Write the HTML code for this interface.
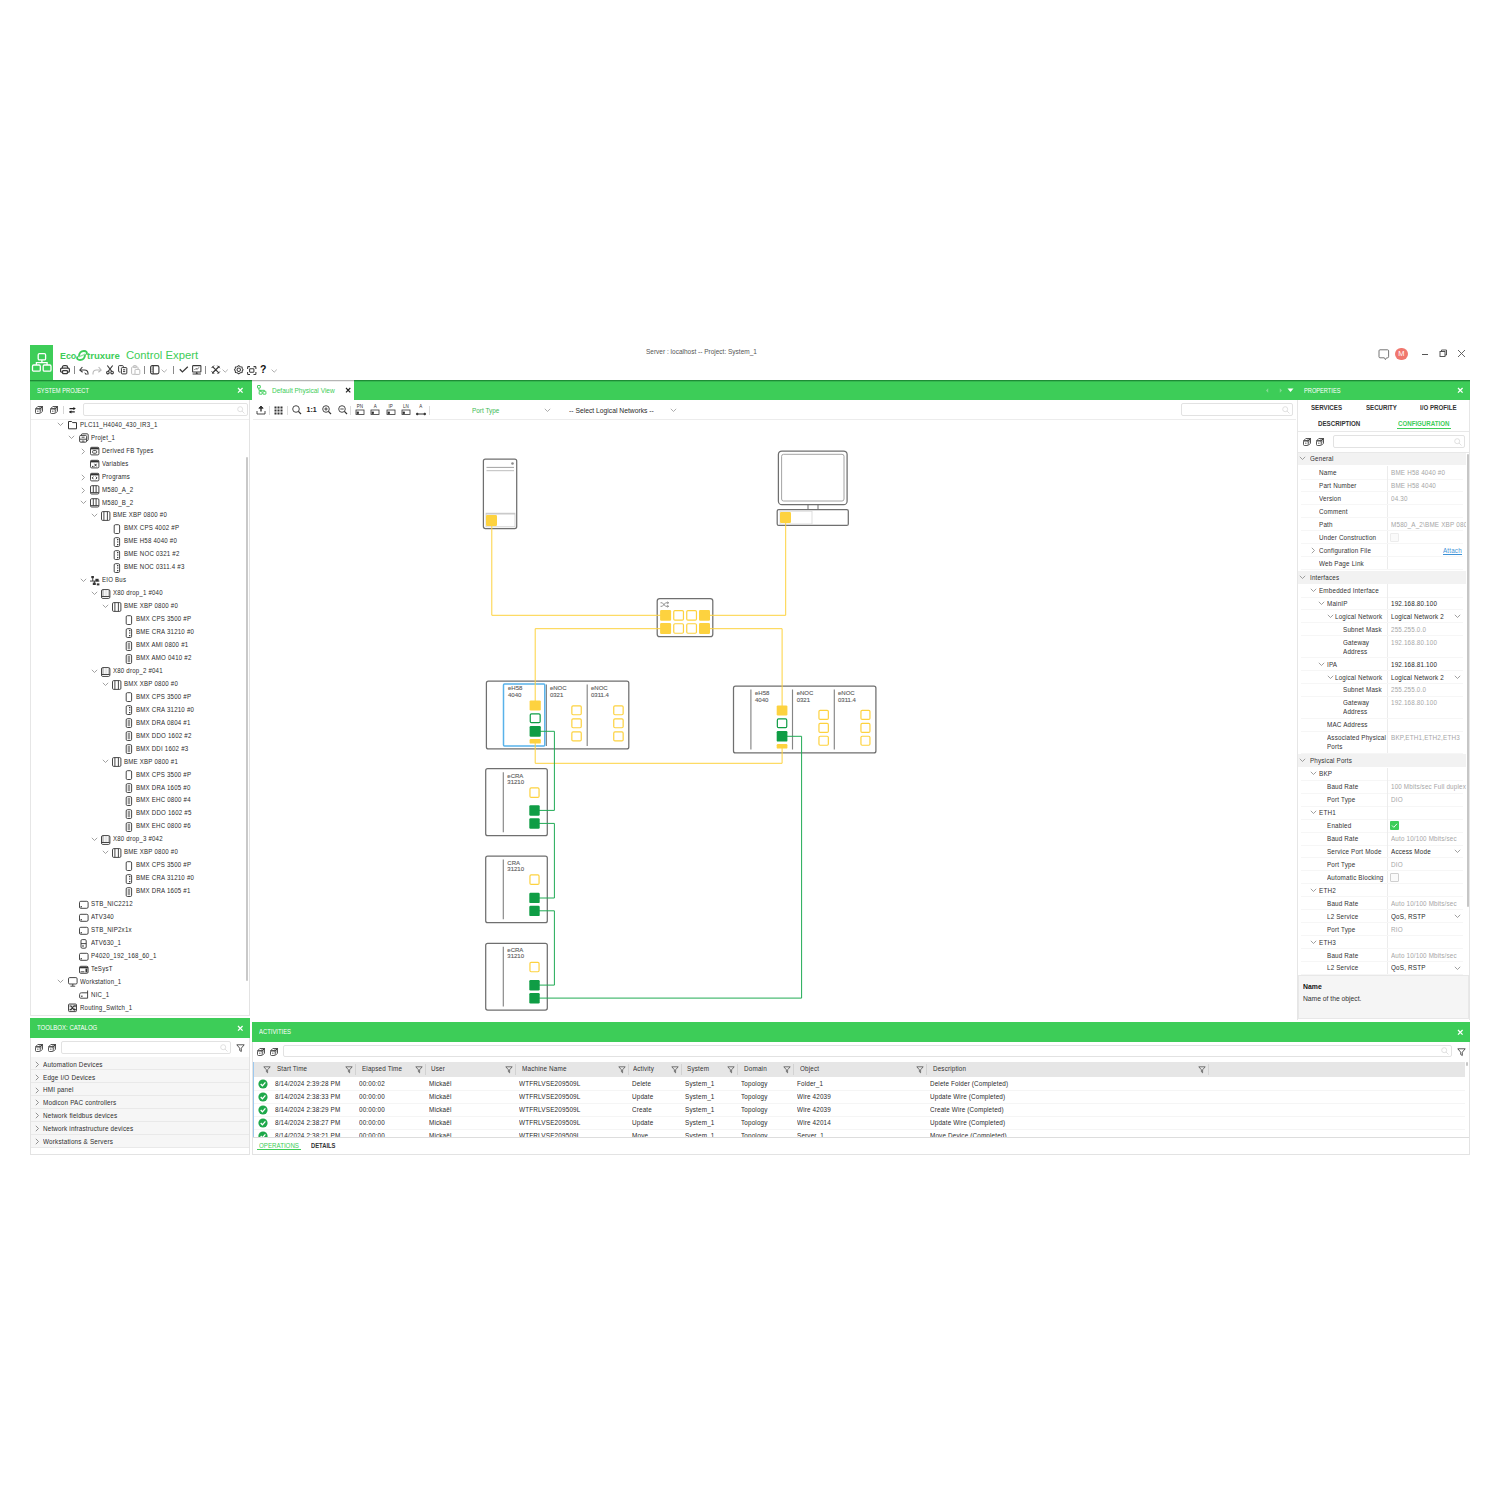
<!DOCTYPE html><html><head><meta charset="utf-8"><style>
html,body{margin:0;padding:0;background:#fff;width:1500px;height:1500px;overflow:hidden;position:relative;font-family:"Liberation Sans", sans-serif;}
.t{position:absolute;white-space:nowrap;}
svg{overflow:visible}
</style></head><body>
<div style="position:absolute;left:30.00px;top:345.00px;width:23.00px;height:35.00px;background:#3dcd58"></div>
<svg style="position:absolute;left:30.00px;top:345.00px;" width="23" height="35" viewBox="0 0 23 35"><g fill="none" stroke="#fff" stroke-width="1.3"><rect x="8.2" y="8.7" width="7.4" height="6.2" rx="1.2"/><rect x="2.5" y="20" width="7.8" height="6.2" rx="1.2"/><rect x="13.2" y="20" width="7.8" height="6.2" rx="1.2"/><path d="M11.9 14.9V17.6M6.4 20V17.6H17.1V20"/></g></svg>
<div class="t" style="left:59.70px;top:349.63px;font-size:9.8px;line-height:12.74px;color:#3dcd58;font-weight:bold;transform:scaleX(0.907);transform-origin:0 50%;">Eco</div>
<svg style="position:absolute;left:76.00px;top:349.80px;" width="12" height="11" viewBox="0 0 12 11"><g fill="none" stroke="#3dcd58" stroke-width="1.9" stroke-linecap="round"><path d="M3 6.2C3 3 5 1 8 1C10.3 1 11.3 2.2 10.8 3.8"/><path d="M9 4.8C9 8 7 10 4 10C1.7 10 0.7 8.8 1.2 7.2"/><path d="M3.2 6.6L8.8 4.4" stroke-width="1.3" stroke="#8fe09f"/></g></svg>
<div class="t" style="left:87.40px;top:349.63px;font-size:9.8px;line-height:12.74px;color:#3dcd58;font-weight:bold;transform:scaleX(0.974);transform-origin:0 50%;">truxure</div>
<div class="t" style="left:125.90px;top:348.15px;font-size:11.3px;line-height:14.69px;color:#3dcd58;font-weight:normal;">Control Expert</div>
<div class="t" style="left:646.00px;top:346.65px;font-size:7.3px;line-height:9.49px;color:#555;font-weight:normal;transform:scaleX(0.891);transform-origin:0 50%;">Server : localhost -- Project: System_1</div>
<svg style="position:absolute;left:60.00px;top:365.20px;" width="10" height="9.3" viewBox="0 0 10 9.3"><g fill="none" stroke="#3a3a3a" stroke-width="1.2"><path d="M2.4 3.2V2.2C2.4 1.3 3 0.7 4 0.7H6C7 0.7 7.6 1.3 7.6 2.2V3.2"/><path d="M2.4 7.2H1.6C1 7.2 0.6 6.8 0.6 6.2V4.4C0.6 3.7 1.1 3.2 1.8 3.2H8.2C8.9 3.2 9.4 3.7 9.4 4.4V6.2C9.4 6.8 9 7.2 8.4 7.2H7.6"/><rect x="2.6" y="5.6" width="4.8" height="3" rx="0.6"/></g></svg>
<div style="position:absolute;left:73.50px;top:366.00px;width:0.90px;height:7.60px;background:#8a8a8a"></div>
<svg style="position:absolute;left:79.00px;top:365.50px;" width="10" height="9" viewBox="0 0 10 9"><g fill="none" stroke="#3a3a3a" stroke-width="1.1" stroke-linejoin="round"><path d="M3.4 1L0.8 4L3.6 6.2"/><path d="M1 4H5.5C7.6 4 9 5.3 9 7.6V8.4"/></g><path d="M5.3 6.2L8.8 8.6L6.3 8.6Z" fill="#3a3a3a"/></svg>
<svg style="position:absolute;left:92.00px;top:365.50px;" width="10" height="9" viewBox="0 0 10 9"><g fill="none" stroke="#b8b8b8" stroke-width="1.1" stroke-linejoin="round"><path d="M6.6 1L9.2 4L6.4 6.2"/><path d="M9 4H4.5C2.4 4 1 5.3 1 7.6V8.4"/></g></svg>
<svg style="position:absolute;left:105.50px;top:365.00px;" width="8" height="9.5" viewBox="0 0 8 9.5"><g fill="none" stroke="#3a3a3a" stroke-width="1.1"><path d="M1.3 0.5L5.6 6.2M6.7 0.5L2.4 6.2"/><circle cx="1.9" cy="7.6" r="1.3"/><circle cx="6.1" cy="7.6" r="1.3"/></g></svg>
<svg style="position:absolute;left:118.00px;top:365.20px;" width="9.5" height="9.5" viewBox="0 0 9.5 9.5"><g fill="none" stroke="#3a3a3a" stroke-width="1"><path d="M2.4 7H1.3C0.9 7 0.6 6.7 0.6 6.3V1.3C0.6 0.9 0.9 0.6 1.3 0.6H4.6C5 0.6 5.3 0.9 5.3 1.3V2.4"/><rect x="3.4" y="2.6" width="5.4" height="6.3" rx="0.8"/><path d="M5 4.8H7.2M5 6.6H7.2"/></g></svg>
<svg style="position:absolute;left:131.00px;top:365.00px;" width="9.5" height="9.8" viewBox="0 0 9.5 9.8"><g fill="none" stroke="#bdbdbd" stroke-width="1"><rect x="0.6" y="2" width="6.5" height="7.3" rx="0.8"/><rect x="2.4" y="0.6" width="3" height="2" rx="0.5"/><rect x="4" y="4.4" width="4.8" height="5" rx="0.6" fill="#fff"/></g></svg>
<div style="position:absolute;left:144.30px;top:366.00px;width:0.90px;height:7.60px;background:#8a8a8a"></div>
<svg style="position:absolute;left:150.30px;top:365.20px;" width="9.5" height="9.5" viewBox="0 0 9.5 9.5"><g fill="none" stroke="#3a3a3a" stroke-width="1.1"><rect x="0.6" y="0.6" width="8.3" height="8.3" rx="1.6"/><path d="M3.2 0.8V8.8"/><path d="M1.6 3H2.6M1.6 4.8H2.6M1.6 6.6H2.6" stroke-width="0.8"/></g></svg>
<svg style="position:absolute;left:161.40px;top:368.80px;" width="7" height="4" viewBox="0 0 7 4"><path d="M0.6 0.6L3.2 3.2L5.8 0.6" fill="none" stroke="#9a9a9a" stroke-width="0.8"/></svg>
<div style="position:absolute;left:173.10px;top:366.00px;width:0.90px;height:7.60px;background:#8a8a8a"></div>
<svg style="position:absolute;left:178.80px;top:366.30px;" width="9.5" height="7" viewBox="0 0 9.5 7"><path d="M0.8 3.3L3.4 5.9L8.8 0.8" fill="none" stroke="#3a3a3a" stroke-width="1.3"/></svg>
<svg style="position:absolute;left:191.70px;top:365.00px;" width="9.5" height="9.5" viewBox="0 0 9.5 9.5"><g fill="none" stroke="#3a3a3a" stroke-width="1.05"><rect x="0.6" y="0.6" width="8.3" height="6.4" rx="0.5"/><path d="M4.75 7V8.2M0.6 8.9H8.9"/><path d="M2.4 5L4 3.4L5.2 4.4L6.9 2.4" stroke-width="0.8"/></g><path d="M3.5 8.9L4.75 7.6L6 8.9Z" fill="#3a3a3a"/></svg>
<div style="position:absolute;left:205.00px;top:366.00px;width:0.90px;height:7.60px;background:#8a8a8a"></div>
<svg style="position:absolute;left:211.00px;top:365.00px;" width="9.5" height="9.5" viewBox="0 0 9.5 9.5"><g fill="none" stroke="#3a3a3a" stroke-width="1.2" stroke-linecap="round"><path d="M1.5 8L8 1.5M1.8 1.8L7.8 7.8"/><path d="M0.8 2.8L2.8 0.8M6.8 8.6L8.6 6.8M6.6 0.9L8.6 2.9M0.9 6.6L2.9 8.6" stroke-width="1"/></g></svg>
<svg style="position:absolute;left:222.30px;top:368.80px;" width="7" height="4" viewBox="0 0 7 4"><path d="M0.6 0.6L3.2 3.2L5.8 0.6" fill="none" stroke="#9a9a9a" stroke-width="0.8"/></svg>
<svg style="position:absolute;left:233.50px;top:365.00px;" width="9.5" height="9.5" viewBox="0 0 9.5 9.5"><g fill="none" stroke="#3a3a3a" stroke-width="1.05" stroke-linejoin="round"><path d="M4.75 0.6L6.2 1.7L8 1.9L8.3 3.7L9.1 4.75L8.3 5.8L8 7.6L6.2 7.8L4.75 8.9L3.3 7.8L1.5 7.6L1.2 5.8L0.4 4.75L1.2 3.7L1.5 1.9L3.3 1.7Z"/><circle cx="4.75" cy="4.75" r="1.7"/></g></svg>
<svg style="position:absolute;left:246.70px;top:365.50px;" width="9.5" height="9" viewBox="0 0 9.5 9"><g fill="none" stroke="#3a3a3a" stroke-width="1.05"><path d="M0.6 3V1.3C0.6 0.9 0.9 0.6 1.3 0.6H3M6.5 0.6H8.2C8.6 0.6 8.9 0.9 8.9 1.3V3M8.9 6V7.7C8.9 8.1 8.6 8.4 8.2 8.4H6.5M3 8.4H1.3C0.9 8.4 0.6 8.1 0.6 7.7V6"/><rect x="2.6" y="2.8" width="4.3" height="3.4" rx="0.6"/></g></svg>
<div class="t" style="left:260.20px;top:362.32px;font-size:11.5px;line-height:14.95px;color:#111;font-weight:bold;transform:scaleX(0.911);transform-origin:0 50%;">?</div>
<svg style="position:absolute;left:271.00px;top:368.80px;" width="7" height="4" viewBox="0 0 7 4"><path d="M0.6 0.6L3.2 3.2L5.8 0.6" fill="none" stroke="#9a9a9a" stroke-width="0.8"/></svg>
<svg style="position:absolute;left:1378.00px;top:348.50px;" width="12" height="12" viewBox="0 0 12 12"><path d="M2 0.8H9.6C10.2 0.8 10.6 1.2 10.6 1.8V7.8C10.6 8.4 10.2 8.8 9.6 8.8H8.6L7.4 10.6L6.4 8.8H2C1.4 8.8 1 8.4 1 7.8V1.8C1 1.2 1.4 0.8 2 0.8Z" fill="none" stroke="#666" stroke-width="0.9" stroke-linejoin="round"/></svg>
<div style="position:absolute;left:1395.3px;top:347.8px;width:12.4px;height:12.4px;border-radius:50%;background:#f0776e;color:#fff;font-size:7.5px;line-height:12.4px;text-align:center;">M</div>
<div style="position:absolute;left:1422.30px;top:353.70px;width:5.80px;height:1.00px;background:#555"></div>
<svg style="position:absolute;left:1439.00px;top:349.00px;" width="9" height="9" viewBox="0 0 9 9"><g fill="none" stroke="#444" stroke-width="0.9"><rect x="1" y="2.5" width="5" height="5"/><path d="M2.5 2.5V1H7.5V6H6"/></g></svg>
<svg style="position:absolute;left:1457.00px;top:349.00px;" width="9" height="9" viewBox="0 0 9 9"><path d="M1 1L8 8M8 1L1 8" fill="none" stroke="#555" stroke-width="0.9"/></svg>
<div style="position:absolute;left:30.00px;top:380.00px;width:222.00px;height:20.00px;background:#3dcd58;box-shadow:inset 0 1px 0 #1d8c35, inset 0 2px 0 #34b64f"></div>
<div style="position:absolute;left:354.00px;top:380.00px;width:1116.00px;height:20.00px;background:#3dcd58;box-shadow:inset 0 1px 0 #1d8c35, inset 0 2px 0 #34b64f"></div>
<div style="position:absolute;left:252.00px;top:380.00px;width:102.00px;height:20.00px;background:#fff;box-shadow:inset 0 1px 0 #b5b5b5, inset 0 2px 0 #ececec"></div>
<div style="position:absolute;left:30.00px;top:400.00px;width:219.60px;height:616.00px;background:#fff;border-left:1px solid #e6e6e6;border-right:1px solid #e3e3e3;border-bottom:1px solid #e6e6e6;box-sizing:border-box"></div>
<div style="position:absolute;left:1296.50px;top:400.00px;width:1.00px;height:620.00px;background:#e6e6e6"></div>
<div style="position:absolute;left:1469.00px;top:400.00px;width:1.00px;height:620.00px;background:#e6e6e6"></div>
<div class="t" style="left:36.80px;top:385.56px;font-size:7.3px;line-height:9.49px;color:#fff;font-weight:normal;transform:scaleX(0.787);transform-origin:0 50%;">SYSTEM PROJECT</div>
<svg style="position:absolute;left:237.20px;top:386.70px;" width="6.6" height="6.6" viewBox="0 0 6.6 6.6"><path d="M1 1L5.6 5.6M5.6 1L1 5.6" stroke="#fff" stroke-width="1.3"/></svg>
<svg style="position:absolute;left:257.00px;top:385.00px;" width="10" height="10" viewBox="0 0 10 10"><g fill="none" stroke="#3dcd58" stroke-width="0.95"><rect x="0.5" y="0.5" width="2.8" height="2.6" rx="0.3"/><path d="M1.9 3.1V5.3H7.4V6.3M3.6 5.3V6.3"/><rect x="2.2" y="6.3" width="2.9" height="2.9" rx="0.3"/><rect x="6" y="6.3" width="2.9" height="2.9" rx="0.3"/></g></svg>
<div class="t" style="left:272.00px;top:385.56px;font-size:7.3px;line-height:9.49px;color:#3dcd58;font-weight:normal;transform:scaleX(0.895);transform-origin:0 50%;">Default Physical View</div>
<svg style="position:absolute;left:344.65px;top:386.65px;" width="6.3" height="6.3" viewBox="0 0 6.3 6.3"><path d="M1 1L5.3 5.3M5.3 1L1 5.3" stroke="#222" stroke-width="1.15"/></svg>
<svg style="position:absolute;left:1265.00px;top:387.00px;" width="18" height="7" viewBox="0 0 18 7"><path d="M3.2 1.2L1 3.5L3.2 5.8ZM14.8 1.2L17 3.5L14.8 5.8Z" fill="#86d995"/></svg>
<svg style="position:absolute;left:1287.00px;top:388.00px;" width="7" height="5" viewBox="0 0 7 5"><path d="M0.5 0.5H6.5L3.5 4Z" fill="#fff"/></svg>
<div class="t" style="left:1303.70px;top:385.56px;font-size:7.3px;line-height:9.49px;color:#fff;font-weight:normal;transform:scaleX(0.778);transform-origin:0 50%;">PROPERTIES</div>
<svg style="position:absolute;left:1457.30px;top:386.70px;" width="6.6" height="6.6" viewBox="0 0 6.6 6.6"><path d="M1 1L5.6 5.6M5.6 1L1 5.6" stroke="#fff" stroke-width="1.3"/></svg>
<svg style="position:absolute;left:35.00px;top:406.20px;" width="8" height="8" viewBox="0 0 8 8"><g fill="none" stroke="#3a3a3a" stroke-width="0.85" stroke-linejoin="round"><path d="M0.5 2.8L2.8 0.5H7.5L5.2 2.8Z"/><path d="M5.2 2.8L7.5 0.5V5.2L5.2 7.5"/><rect x="0.5" y="2.8" width="4.7" height="4.7" rx="1"/><path d="M3.6 2.6L5.8 0.6M4.6 2.7L6.8 0.6M5.6 3.6L7.4 1.8M5.6 4.8L7.4 3" stroke-width="0.5"/></g><circle cx="2.85" cy="5.15" r="0.6" fill="#3a3a3a"/></svg>
<svg style="position:absolute;left:50.00px;top:406.20px;" width="8" height="8" viewBox="0 0 8 8"><g fill="none" stroke="#3a3a3a" stroke-width="0.85" stroke-linejoin="round"><path d="M0.5 2.8L2.8 0.5H7.5L5.2 2.8Z"/><path d="M5.2 2.8L7.5 0.5V5.2L5.2 7.5"/><rect x="0.5" y="2.8" width="4.7" height="4.7" rx="1"/><path d="M3.6 2.6L5.8 0.6M4.6 2.7L6.8 0.6M5.6 3.6L7.4 1.8M5.6 4.8L7.4 3" stroke-width="0.5"/></g><circle cx="2.85" cy="5.15" r="0.6" fill="#3a3a3a"/></svg>
<div style="position:absolute;left:63.20px;top:406.00px;width:0.70px;height:8.00px;background:#d6d6d6"></div>
<svg style="position:absolute;left:69.00px;top:406.50px;" width="7" height="6.5" viewBox="0 0 7 6.5"><g fill="none" stroke="#222" stroke-width="1.1"><path d="M0.5 1.6H5.2M0.5 4.9H5.8"/></g><path d="M4.4 0L6.8 1.6L4.4 3.2Z M2.4 3.3L0 4.9L2.4 6.5Z" fill="#222"/></svg>
<div style="position:absolute;left:82.70px;top:403.30px;width:165.00px;height:13.00px;border:1px solid #e2e2e2;border-radius:2px;box-sizing:border-box;background:#fff"></div>
<svg style="position:absolute;left:236.70px;top:405.80px;" width="8" height="8" viewBox="0 0 8 8"><g fill="none" stroke="#ddd" stroke-width="0.9"><circle cx="3.2" cy="3.2" r="2.5"/><path d="M5 5L7.5 7.5"/></g></svg>
<div style="position:absolute;left:31.00px;top:419.00px;width:218.00px;height:0.80px;background:#eee"></div>
<div style="position:absolute;left:245.60px;top:457.00px;width:2.20px;height:524.00px;background:#c9c9c9;border-radius:1px"></div>
<svg style="position:absolute;left:57.20px;top:422.40px;" width="7" height="5" viewBox="0 0 7 5"><path d="M0.8 0.8L3.5 3.5L6.2 0.8" fill="none" stroke="#8a8a8a" stroke-width="0.8"/></svg>
<svg style="position:absolute;left:67.50px;top:420.40px;" width="10" height="10" viewBox="0 0 10 10"><path d="M0.5 1.5H3.6L4.6 2.6H8.5V8.8H0.5Z" fill="none" stroke="#333" stroke-width="1.0" stroke-linejoin="round"/></svg>
<div class="t" style="left:79.50px;top:420.78px;font-size:7.1px;line-height:9.23px;color:#2a2a2a;font-weight:normal;transform:scaleX(0.862);transform-origin:0 50%;letter-spacing:0.25px;">PLC11_H4040_430_IR3_1</div>
<svg style="position:absolute;left:68.40px;top:435.35px;" width="7" height="5" viewBox="0 0 7 5"><path d="M0.8 0.8L3.5 3.5L6.2 0.8" fill="none" stroke="#8a8a8a" stroke-width="0.8"/></svg>
<svg style="position:absolute;left:78.70px;top:433.35px;" width="10" height="10" viewBox="0 0 10 10"><g fill="none" stroke="#333" stroke-width="0.9"><rect x="0.6" y="2.4" width="7" height="6.8" rx="1.2"/><path d="M2.4 2.4V1.8C2.4 1.2 2.8 0.8 3.4 0.8H8.2C8.8 0.8 9.2 1.2 9.2 1.8V6.6C9.2 7.2 8.8 7.6 8.2 7.6H7.6"/><path d="M0.8 6.2H7.4M2.6 4.2H5.6M2.8 8.1H5.4"/></g></svg>
<div class="t" style="left:90.70px;top:433.74px;font-size:7.1px;line-height:9.23px;color:#2a2a2a;font-weight:normal;transform:scaleX(0.851);transform-origin:0 50%;letter-spacing:0.25px;">Projet_1</div>
<svg style="position:absolute;left:80.60px;top:447.81px;" width="5" height="7" viewBox="0 0 5 7"><path d="M0.8 0.8L3.5 3.5L0.8 6.2" fill="none" stroke="#8a8a8a" stroke-width="0.8"/></svg>
<svg style="position:absolute;left:89.90px;top:446.31px;" width="10" height="10" viewBox="0 0 10 10"><g fill="none" stroke="#333" stroke-width="0.9"><rect x="0.5" y="1.3" width="8.4" height="7.6" rx="1.2"/><path d="M0.6 2.5H8.8" stroke-width="1.8"/><rect x="2.6" y="4.6" width="4" height="2.6" rx="0.8"/></g></svg>
<div class="t" style="left:101.90px;top:446.69px;font-size:7.1px;line-height:9.23px;color:#2a2a2a;font-weight:normal;transform:scaleX(0.854);transform-origin:0 50%;letter-spacing:0.25px;">Derived FB Types</div>
<svg style="position:absolute;left:89.90px;top:459.26px;" width="10" height="10" viewBox="0 0 10 10"><g fill="none" stroke="#333" stroke-width="0.9"><rect x="0.5" y="1.3" width="8.4" height="7.6" rx="1.2"/><path d="M0.6 2.5H8.8" stroke-width="1.8"/><path d="M2 7.4H3.5M4.5 4.8L6.6 7.4M6.6 4.8L4.5 7.4" stroke-width="1"/></g></svg>
<div class="t" style="left:101.90px;top:459.65px;font-size:7.1px;line-height:9.23px;color:#2a2a2a;font-weight:normal;transform:scaleX(0.849);transform-origin:0 50%;letter-spacing:0.25px;">Variables</div>
<svg style="position:absolute;left:80.60px;top:473.72px;" width="5" height="7" viewBox="0 0 5 7"><path d="M0.8 0.8L3.5 3.5L0.8 6.2" fill="none" stroke="#8a8a8a" stroke-width="0.8"/></svg>
<svg style="position:absolute;left:89.90px;top:472.22px;" width="10" height="10" viewBox="0 0 10 10"><g fill="none" stroke="#333" stroke-width="0.9"><rect x="0.5" y="1.3" width="8.4" height="7.6" rx="1.2"/><path d="M0.6 2.5H8.8" stroke-width="1.8"/><path d="M3.4 4.6L2.3 5.9L3.4 7.2M5.8 4.6L6.9 5.9L5.8 7.2" stroke-width="1"/></g></svg>
<div class="t" style="left:101.90px;top:472.60px;font-size:7.1px;line-height:9.23px;color:#2a2a2a;font-weight:normal;transform:scaleX(0.859);transform-origin:0 50%;letter-spacing:0.25px;">Programs</div>
<svg style="position:absolute;left:80.60px;top:486.67px;" width="5" height="7" viewBox="0 0 5 7"><path d="M0.8 0.8L3.5 3.5L0.8 6.2" fill="none" stroke="#8a8a8a" stroke-width="0.8"/></svg>
<svg style="position:absolute;left:89.90px;top:485.17px;" width="10" height="10" viewBox="0 0 10 10"><g fill="none" stroke="#333" stroke-width="0.9"><rect x="0.5" y="0.7" width="8.4" height="8.3" rx="1.2"/><path d="M3.3 0.8V7.6M6.1 0.8V7.6M0.6 7.6H8.8"/></g></svg>
<div class="t" style="left:101.90px;top:485.56px;font-size:7.1px;line-height:9.23px;color:#2a2a2a;font-weight:normal;transform:scaleX(0.865);transform-origin:0 50%;letter-spacing:0.25px;">M580_A_2</div>
<svg style="position:absolute;left:79.60px;top:500.13px;" width="7" height="5" viewBox="0 0 7 5"><path d="M0.8 0.8L3.5 3.5L6.2 0.8" fill="none" stroke="#8a8a8a" stroke-width="0.8"/></svg>
<svg style="position:absolute;left:89.90px;top:498.13px;" width="10" height="10" viewBox="0 0 10 10"><g fill="none" stroke="#333" stroke-width="0.9"><rect x="0.5" y="0.7" width="8.4" height="8.3" rx="1.2"/><path d="M3.3 0.8V7.6M6.1 0.8V7.6M0.6 7.6H8.8"/></g></svg>
<div class="t" style="left:101.90px;top:498.51px;font-size:7.1px;line-height:9.23px;color:#2a2a2a;font-weight:normal;transform:scaleX(0.865);transform-origin:0 50%;letter-spacing:0.25px;">M580_B_2</div>
<svg style="position:absolute;left:90.80px;top:513.09px;" width="7" height="5" viewBox="0 0 7 5"><path d="M0.8 0.8L3.5 3.5L6.2 0.8" fill="none" stroke="#8a8a8a" stroke-width="0.8"/></svg>
<svg style="position:absolute;left:101.10px;top:511.09px;" width="10" height="10" viewBox="0 0 10 10"><g fill="none" stroke="#333" stroke-width="0.9"><rect x="0.5" y="0.6" width="8.4" height="8.8" rx="1.2"/><path d="M2.9 0.8V9.2M6.4 0.8V9.2"/></g></svg>
<div class="t" style="left:113.10px;top:511.47px;font-size:7.1px;line-height:9.23px;color:#2a2a2a;font-weight:normal;transform:scaleX(0.860);transform-origin:0 50%;letter-spacing:0.25px;">BME XBP 0800 #0</div>
<svg style="position:absolute;left:112.30px;top:524.04px;" width="10" height="10" viewBox="0 0 10 10"><rect x="2.2" y="0.7" width="5.4" height="8.8" rx="1.2" fill="none" stroke="#333" stroke-width="0.9"/></svg>
<div class="t" style="left:124.30px;top:524.42px;font-size:7.1px;line-height:9.23px;color:#2a2a2a;font-weight:normal;transform:scaleX(0.861);transform-origin:0 50%;letter-spacing:0.25px;">BMX CPS 4002 #P</div>
<svg style="position:absolute;left:112.30px;top:537.00px;" width="10" height="10" viewBox="0 0 10 10"><g fill="none" stroke="#333" stroke-width="0.9"><rect x="2.2" y="0.7" width="5.4" height="8.8" rx="1.2"/><path d="M5.7 2V3.2M5.7 4.5V5.6M5.7 7V8.2" stroke-width="1.3"/></g></svg>
<div class="t" style="left:124.30px;top:537.38px;font-size:7.1px;line-height:9.23px;color:#2a2a2a;font-weight:normal;transform:scaleX(0.859);transform-origin:0 50%;letter-spacing:0.25px;">BME H58 4040 #0</div>
<svg style="position:absolute;left:112.30px;top:549.95px;" width="10" height="10" viewBox="0 0 10 10"><g fill="none" stroke="#333" stroke-width="0.9"><rect x="2.2" y="0.7" width="5.4" height="8.8" rx="1.2"/><path d="M5.7 2V3.2M5.7 4.5V5.6M5.7 7V8.2" stroke-width="1.3"/></g></svg>
<div class="t" style="left:124.30px;top:550.34px;font-size:7.1px;line-height:9.23px;color:#2a2a2a;font-weight:normal;transform:scaleX(0.862);transform-origin:0 50%;letter-spacing:0.25px;">BME NOC 0321 #2</div>
<svg style="position:absolute;left:112.30px;top:562.90px;" width="10" height="10" viewBox="0 0 10 10"><g fill="none" stroke="#333" stroke-width="0.9"><rect x="2.2" y="0.7" width="5.4" height="8.8" rx="1.2"/><path d="M5.7 2V3.2M5.7 4.5V5.6M5.7 7V8.2" stroke-width="1.3"/></g></svg>
<div class="t" style="left:124.30px;top:563.29px;font-size:7.1px;line-height:9.23px;color:#2a2a2a;font-weight:normal;transform:scaleX(0.860);transform-origin:0 50%;letter-spacing:0.25px;">BME NOC 0311.4 #3</div>
<svg style="position:absolute;left:79.60px;top:577.86px;" width="7" height="5" viewBox="0 0 7 5"><path d="M0.8 0.8L3.5 3.5L6.2 0.8" fill="none" stroke="#8a8a8a" stroke-width="0.8"/></svg>
<svg style="position:absolute;left:89.90px;top:575.86px;" width="10" height="10" viewBox="0 0 10 10"><g fill="#333" stroke="none"><rect x="1.3" y="0" width="2.6" height="2.2"/><rect x="5.4" y="2.8" width="3.2" height="2.6"/><rect x="2.8" y="6.6" width="3" height="2.4"/><rect x="6.8" y="7.4" width="2.6" height="2"/><rect x="0" y="4.6" width="9.4" height="0.9"/><rect x="2.3" y="2" width="0.9" height="3"/><rect x="3.9" y="5" width="0.9" height="2"/></g></svg>
<div class="t" style="left:101.90px;top:576.25px;font-size:7.1px;line-height:9.23px;color:#2a2a2a;font-weight:normal;transform:scaleX(0.858);transform-origin:0 50%;letter-spacing:0.25px;">EIO Bus</div>
<svg style="position:absolute;left:90.80px;top:590.81px;" width="7" height="5" viewBox="0 0 7 5"><path d="M0.8 0.8L3.5 3.5L6.2 0.8" fill="none" stroke="#8a8a8a" stroke-width="0.8"/></svg>
<svg style="position:absolute;left:101.10px;top:588.81px;" width="10" height="10" viewBox="0 0 10 10"><g fill="none" stroke="#333" stroke-width="0.9"><rect x="0.5" y="0.6" width="8.4" height="8.8" rx="1.4" fill="#c8c8c8"/><rect x="3.2" y="1" width="1.4" height="6.2" fill="#fff" stroke="none"/><rect x="5.4" y="1" width="1.4" height="6.2" fill="#fff" stroke="none"/><rect x="1.2" y="7.6" width="7" height="1.2" fill="#fff" stroke="none"/><path d="M0.8 7.5H8.6"/></g></svg>
<div class="t" style="left:113.10px;top:589.20px;font-size:7.1px;line-height:9.23px;color:#2a2a2a;font-weight:normal;transform:scaleX(0.856);transform-origin:0 50%;letter-spacing:0.25px;">X80 drop_1 #040</div>
<svg style="position:absolute;left:102.00px;top:603.77px;" width="7" height="5" viewBox="0 0 7 5"><path d="M0.8 0.8L3.5 3.5L6.2 0.8" fill="none" stroke="#8a8a8a" stroke-width="0.8"/></svg>
<svg style="position:absolute;left:112.30px;top:601.77px;" width="10" height="10" viewBox="0 0 10 10"><g fill="none" stroke="#333" stroke-width="0.9"><rect x="0.5" y="0.6" width="8.4" height="8.8" rx="1.2"/><path d="M2.9 0.8V9.2M6.4 0.8V9.2"/></g></svg>
<div class="t" style="left:124.30px;top:602.15px;font-size:7.1px;line-height:9.23px;color:#2a2a2a;font-weight:normal;transform:scaleX(0.860);transform-origin:0 50%;letter-spacing:0.25px;">BME XBP 0800 #0</div>
<svg style="position:absolute;left:123.50px;top:614.72px;" width="10" height="10" viewBox="0 0 10 10"><rect x="2.2" y="0.7" width="5.4" height="8.8" rx="1.2" fill="none" stroke="#333" stroke-width="0.9"/></svg>
<div class="t" style="left:135.50px;top:615.11px;font-size:7.1px;line-height:9.23px;color:#2a2a2a;font-weight:normal;transform:scaleX(0.861);transform-origin:0 50%;letter-spacing:0.25px;">BMX CPS 3500 #P</div>
<svg style="position:absolute;left:123.50px;top:627.68px;" width="10" height="10" viewBox="0 0 10 10"><g fill="none" stroke="#333" stroke-width="0.9"><rect x="2.2" y="0.7" width="5.4" height="8.8" rx="1.2"/><path d="M5.7 2V3.2M5.7 4.5V5.6M5.7 7V8.2" stroke-width="1.3"/></g></svg>
<div class="t" style="left:135.50px;top:628.06px;font-size:7.1px;line-height:9.23px;color:#2a2a2a;font-weight:normal;transform:scaleX(0.861);transform-origin:0 50%;letter-spacing:0.25px;">BME CRA 31210 #0</div>
<svg style="position:absolute;left:123.50px;top:640.63px;" width="10" height="10" viewBox="0 0 10 10"><g fill="none" stroke="#333" stroke-width="0.9"><rect x="2.2" y="0.7" width="5.4" height="8.8" rx="1.2"/><rect x="3.7" y="2" width="2.4" height="6.2" fill="#9a9a9a" stroke="none"/></g></svg>
<div class="t" style="left:135.50px;top:641.02px;font-size:7.1px;line-height:9.23px;color:#2a2a2a;font-weight:normal;transform:scaleX(0.859);transform-origin:0 50%;letter-spacing:0.25px;">BMX AMI 0800 #1</div>
<svg style="position:absolute;left:123.50px;top:653.59px;" width="10" height="10" viewBox="0 0 10 10"><g fill="none" stroke="#333" stroke-width="0.9"><rect x="2.2" y="0.7" width="5.4" height="8.8" rx="1.2"/><rect x="3.7" y="2" width="2.4" height="6.2" fill="#9a9a9a" stroke="none"/></g></svg>
<div class="t" style="left:135.50px;top:653.97px;font-size:7.1px;line-height:9.23px;color:#2a2a2a;font-weight:normal;transform:scaleX(0.862);transform-origin:0 50%;letter-spacing:0.25px;">BMX AMO 0410 #2</div>
<svg style="position:absolute;left:90.80px;top:668.54px;" width="7" height="5" viewBox="0 0 7 5"><path d="M0.8 0.8L3.5 3.5L6.2 0.8" fill="none" stroke="#8a8a8a" stroke-width="0.8"/></svg>
<svg style="position:absolute;left:101.10px;top:666.54px;" width="10" height="10" viewBox="0 0 10 10"><g fill="none" stroke="#333" stroke-width="0.9"><rect x="0.5" y="0.6" width="8.4" height="8.8" rx="1.4" fill="#c8c8c8"/><rect x="3.2" y="1" width="1.4" height="6.2" fill="#fff" stroke="none"/><rect x="5.4" y="1" width="1.4" height="6.2" fill="#fff" stroke="none"/><rect x="1.2" y="7.6" width="7" height="1.2" fill="#fff" stroke="none"/><path d="M0.8 7.5H8.6"/></g></svg>
<div class="t" style="left:113.10px;top:666.93px;font-size:7.1px;line-height:9.23px;color:#2a2a2a;font-weight:normal;transform:scaleX(0.856);transform-origin:0 50%;letter-spacing:0.25px;">X80 drop_2 #041</div>
<svg style="position:absolute;left:102.00px;top:681.50px;" width="7" height="5" viewBox="0 0 7 5"><path d="M0.8 0.8L3.5 3.5L6.2 0.8" fill="none" stroke="#8a8a8a" stroke-width="0.8"/></svg>
<svg style="position:absolute;left:112.30px;top:679.50px;" width="10" height="10" viewBox="0 0 10 10"><g fill="none" stroke="#333" stroke-width="0.9"><rect x="0.5" y="0.6" width="8.4" height="8.8" rx="1.2"/><path d="M2.9 0.8V9.2M6.4 0.8V9.2"/></g></svg>
<div class="t" style="left:124.30px;top:679.88px;font-size:7.1px;line-height:9.23px;color:#2a2a2a;font-weight:normal;transform:scaleX(0.860);transform-origin:0 50%;letter-spacing:0.25px;">BMX XBP 0800 #0</div>
<svg style="position:absolute;left:123.50px;top:692.45px;" width="10" height="10" viewBox="0 0 10 10"><rect x="2.2" y="0.7" width="5.4" height="8.8" rx="1.2" fill="none" stroke="#333" stroke-width="0.9"/></svg>
<div class="t" style="left:135.50px;top:692.84px;font-size:7.1px;line-height:9.23px;color:#2a2a2a;font-weight:normal;transform:scaleX(0.861);transform-origin:0 50%;letter-spacing:0.25px;">BMX CPS 3500 #P</div>
<svg style="position:absolute;left:123.50px;top:705.41px;" width="10" height="10" viewBox="0 0 10 10"><g fill="none" stroke="#333" stroke-width="0.9"><rect x="2.2" y="0.7" width="5.4" height="8.8" rx="1.2"/><path d="M5.7 2V3.2M5.7 4.5V5.6M5.7 7V8.2" stroke-width="1.3"/></g></svg>
<div class="t" style="left:135.50px;top:705.79px;font-size:7.1px;line-height:9.23px;color:#2a2a2a;font-weight:normal;transform:scaleX(0.861);transform-origin:0 50%;letter-spacing:0.25px;">BMX CRA 31210 #0</div>
<svg style="position:absolute;left:123.50px;top:718.37px;" width="10" height="10" viewBox="0 0 10 10"><g fill="none" stroke="#333" stroke-width="0.9"><rect x="2.2" y="0.7" width="5.4" height="8.8" rx="1.2"/><rect x="3.7" y="2" width="2.4" height="6.2" fill="#9a9a9a" stroke="none"/></g></svg>
<div class="t" style="left:135.50px;top:718.75px;font-size:7.1px;line-height:9.23px;color:#2a2a2a;font-weight:normal;transform:scaleX(0.861);transform-origin:0 50%;letter-spacing:0.25px;">BMX DRA 0804 #1</div>
<svg style="position:absolute;left:123.50px;top:731.32px;" width="10" height="10" viewBox="0 0 10 10"><g fill="none" stroke="#333" stroke-width="0.9"><rect x="2.2" y="0.7" width="5.4" height="8.8" rx="1.2"/><rect x="3.7" y="2" width="2.4" height="6.2" fill="#9a9a9a" stroke="none"/></g></svg>
<div class="t" style="left:135.50px;top:731.70px;font-size:7.1px;line-height:9.23px;color:#2a2a2a;font-weight:normal;transform:scaleX(0.862);transform-origin:0 50%;letter-spacing:0.25px;">BMX DDO 1602 #2</div>
<svg style="position:absolute;left:123.50px;top:744.27px;" width="10" height="10" viewBox="0 0 10 10"><g fill="none" stroke="#333" stroke-width="0.9"><rect x="2.2" y="0.7" width="5.4" height="8.8" rx="1.2"/><rect x="3.7" y="2" width="2.4" height="6.2" fill="#9a9a9a" stroke="none"/></g></svg>
<div class="t" style="left:135.50px;top:744.66px;font-size:7.1px;line-height:9.23px;color:#2a2a2a;font-weight:normal;transform:scaleX(0.859);transform-origin:0 50%;letter-spacing:0.25px;">BMX DDI 1602 #3</div>
<svg style="position:absolute;left:102.00px;top:759.23px;" width="7" height="5" viewBox="0 0 7 5"><path d="M0.8 0.8L3.5 3.5L6.2 0.8" fill="none" stroke="#8a8a8a" stroke-width="0.8"/></svg>
<svg style="position:absolute;left:112.30px;top:757.23px;" width="10" height="10" viewBox="0 0 10 10"><g fill="none" stroke="#333" stroke-width="0.9"><rect x="0.5" y="0.6" width="8.4" height="8.8" rx="1.2"/><path d="M2.9 0.8V9.2M6.4 0.8V9.2"/></g></svg>
<div class="t" style="left:124.30px;top:757.62px;font-size:7.1px;line-height:9.23px;color:#2a2a2a;font-weight:normal;transform:scaleX(0.860);transform-origin:0 50%;letter-spacing:0.25px;">BME XBP 0800 #1</div>
<svg style="position:absolute;left:123.50px;top:770.18px;" width="10" height="10" viewBox="0 0 10 10"><rect x="2.2" y="0.7" width="5.4" height="8.8" rx="1.2" fill="none" stroke="#333" stroke-width="0.9"/></svg>
<div class="t" style="left:135.50px;top:770.57px;font-size:7.1px;line-height:9.23px;color:#2a2a2a;font-weight:normal;transform:scaleX(0.861);transform-origin:0 50%;letter-spacing:0.25px;">BMX CPS 3500 #P</div>
<svg style="position:absolute;left:123.50px;top:783.14px;" width="10" height="10" viewBox="0 0 10 10"><g fill="none" stroke="#333" stroke-width="0.9"><rect x="2.2" y="0.7" width="5.4" height="8.8" rx="1.2"/><rect x="3.7" y="2" width="2.4" height="6.2" fill="#9a9a9a" stroke="none"/></g></svg>
<div class="t" style="left:135.50px;top:783.52px;font-size:7.1px;line-height:9.23px;color:#2a2a2a;font-weight:normal;transform:scaleX(0.861);transform-origin:0 50%;letter-spacing:0.25px;">BMX DRA 1605 #0</div>
<svg style="position:absolute;left:123.50px;top:796.10px;" width="10" height="10" viewBox="0 0 10 10"><g fill="none" stroke="#333" stroke-width="0.9"><rect x="2.2" y="0.7" width="5.4" height="8.8" rx="1.2"/><rect x="3.7" y="2" width="2.4" height="6.2" fill="#9a9a9a" stroke="none"/></g></svg>
<div class="t" style="left:135.50px;top:796.48px;font-size:7.1px;line-height:9.23px;color:#2a2a2a;font-weight:normal;transform:scaleX(0.861);transform-origin:0 50%;letter-spacing:0.25px;">BMX EHC 0800 #4</div>
<svg style="position:absolute;left:123.50px;top:809.05px;" width="10" height="10" viewBox="0 0 10 10"><g fill="none" stroke="#333" stroke-width="0.9"><rect x="2.2" y="0.7" width="5.4" height="8.8" rx="1.2"/><rect x="3.7" y="2" width="2.4" height="6.2" fill="#9a9a9a" stroke="none"/></g></svg>
<div class="t" style="left:135.50px;top:809.43px;font-size:7.1px;line-height:9.23px;color:#2a2a2a;font-weight:normal;transform:scaleX(0.862);transform-origin:0 50%;letter-spacing:0.25px;">BMX DDO 1602 #5</div>
<svg style="position:absolute;left:123.50px;top:822.00px;" width="10" height="10" viewBox="0 0 10 10"><g fill="none" stroke="#333" stroke-width="0.9"><rect x="2.2" y="0.7" width="5.4" height="8.8" rx="1.2"/><rect x="3.7" y="2" width="2.4" height="6.2" fill="#9a9a9a" stroke="none"/></g></svg>
<div class="t" style="left:135.50px;top:822.39px;font-size:7.1px;line-height:9.23px;color:#2a2a2a;font-weight:normal;transform:scaleX(0.861);transform-origin:0 50%;letter-spacing:0.25px;">BMX EHC 0800 #6</div>
<svg style="position:absolute;left:90.80px;top:836.96px;" width="7" height="5" viewBox="0 0 7 5"><path d="M0.8 0.8L3.5 3.5L6.2 0.8" fill="none" stroke="#8a8a8a" stroke-width="0.8"/></svg>
<svg style="position:absolute;left:101.10px;top:834.96px;" width="10" height="10" viewBox="0 0 10 10"><g fill="none" stroke="#333" stroke-width="0.9"><rect x="0.5" y="0.6" width="8.4" height="8.8" rx="1.4" fill="#c8c8c8"/><rect x="3.2" y="1" width="1.4" height="6.2" fill="#fff" stroke="none"/><rect x="5.4" y="1" width="1.4" height="6.2" fill="#fff" stroke="none"/><rect x="1.2" y="7.6" width="7" height="1.2" fill="#fff" stroke="none"/><path d="M0.8 7.5H8.6"/></g></svg>
<div class="t" style="left:113.10px;top:835.35px;font-size:7.1px;line-height:9.23px;color:#2a2a2a;font-weight:normal;transform:scaleX(0.856);transform-origin:0 50%;letter-spacing:0.25px;">X80 drop_3 #042</div>
<svg style="position:absolute;left:102.00px;top:849.91px;" width="7" height="5" viewBox="0 0 7 5"><path d="M0.8 0.8L3.5 3.5L6.2 0.8" fill="none" stroke="#8a8a8a" stroke-width="0.8"/></svg>
<svg style="position:absolute;left:112.30px;top:847.91px;" width="10" height="10" viewBox="0 0 10 10"><g fill="none" stroke="#333" stroke-width="0.9"><rect x="0.5" y="0.6" width="8.4" height="8.8" rx="1.2"/><path d="M2.9 0.8V9.2M6.4 0.8V9.2"/></g></svg>
<div class="t" style="left:124.30px;top:848.30px;font-size:7.1px;line-height:9.23px;color:#2a2a2a;font-weight:normal;transform:scaleX(0.860);transform-origin:0 50%;letter-spacing:0.25px;">BME XBP 0800 #0</div>
<svg style="position:absolute;left:123.50px;top:860.87px;" width="10" height="10" viewBox="0 0 10 10"><rect x="2.2" y="0.7" width="5.4" height="8.8" rx="1.2" fill="none" stroke="#333" stroke-width="0.9"/></svg>
<div class="t" style="left:135.50px;top:861.25px;font-size:7.1px;line-height:9.23px;color:#2a2a2a;font-weight:normal;transform:scaleX(0.861);transform-origin:0 50%;letter-spacing:0.25px;">BMX CPS 3500 #P</div>
<svg style="position:absolute;left:123.50px;top:873.83px;" width="10" height="10" viewBox="0 0 10 10"><g fill="none" stroke="#333" stroke-width="0.9"><rect x="2.2" y="0.7" width="5.4" height="8.8" rx="1.2"/><path d="M5.7 2V3.2M5.7 4.5V5.6M5.7 7V8.2" stroke-width="1.3"/></g></svg>
<div class="t" style="left:135.50px;top:874.21px;font-size:7.1px;line-height:9.23px;color:#2a2a2a;font-weight:normal;transform:scaleX(0.861);transform-origin:0 50%;letter-spacing:0.25px;">BME CRA 31210 #0</div>
<svg style="position:absolute;left:123.50px;top:886.78px;" width="10" height="10" viewBox="0 0 10 10"><g fill="none" stroke="#333" stroke-width="0.9"><rect x="2.2" y="0.7" width="5.4" height="8.8" rx="1.2"/><rect x="3.7" y="2" width="2.4" height="6.2" fill="#9a9a9a" stroke="none"/></g></svg>
<div class="t" style="left:135.50px;top:887.16px;font-size:7.1px;line-height:9.23px;color:#2a2a2a;font-weight:normal;transform:scaleX(0.861);transform-origin:0 50%;letter-spacing:0.25px;">BMX DRA 1605 #1</div>
<svg style="position:absolute;left:78.70px;top:899.73px;" width="10" height="10" viewBox="0 0 10 10"><g fill="none" stroke="#333" stroke-width="0.9"><rect x="0.5" y="1.3" width="8.6" height="7" rx="1.3"/><rect x="1.6" y="6.1" width="1.3" height="1.3" fill="#333" stroke="none"/></g></svg>
<div class="t" style="left:90.70px;top:900.12px;font-size:7.1px;line-height:9.23px;color:#2a2a2a;font-weight:normal;transform:scaleX(0.863);transform-origin:0 50%;letter-spacing:0.25px;">STB_NIC2212</div>
<svg style="position:absolute;left:78.70px;top:912.69px;" width="10" height="10" viewBox="0 0 10 10"><g fill="none" stroke="#333" stroke-width="0.9"><rect x="0.5" y="1.3" width="8.6" height="7" rx="1.3"/><rect x="1.6" y="6.1" width="1.3" height="1.3" fill="#333" stroke="none"/></g></svg>
<div class="t" style="left:90.70px;top:913.08px;font-size:7.1px;line-height:9.23px;color:#2a2a2a;font-weight:normal;transform:scaleX(0.863);transform-origin:0 50%;letter-spacing:0.25px;">ATV340</div>
<svg style="position:absolute;left:78.70px;top:925.64px;" width="10" height="10" viewBox="0 0 10 10"><g fill="none" stroke="#333" stroke-width="0.9"><rect x="0.5" y="1.3" width="8.6" height="7" rx="1.3"/><rect x="1.6" y="6.1" width="1.3" height="1.3" fill="#333" stroke="none"/></g></svg>
<div class="t" style="left:90.70px;top:926.03px;font-size:7.1px;line-height:9.23px;color:#2a2a2a;font-weight:normal;transform:scaleX(0.862);transform-origin:0 50%;letter-spacing:0.25px;">STB_NIP2x1x</div>
<svg style="position:absolute;left:78.70px;top:938.60px;" width="10" height="10" viewBox="0 0 10 10"><g fill="none" stroke="#333" stroke-width="0.9"><rect x="2" y="0.6" width="5.2" height="8.6" rx="1.2"/><path d="M2 4.6H7.2"/><rect x="3.3" y="6.3" width="1.4" height="1.4" fill="#333" stroke="none"/></g></svg>
<div class="t" style="left:90.70px;top:938.99px;font-size:7.1px;line-height:9.23px;color:#2a2a2a;font-weight:normal;transform:scaleX(0.863);transform-origin:0 50%;letter-spacing:0.25px;">ATV630_1</div>
<svg style="position:absolute;left:78.70px;top:951.55px;" width="10" height="10" viewBox="0 0 10 10"><g fill="none" stroke="#333" stroke-width="0.9"><rect x="0.5" y="1.3" width="8.6" height="7" rx="1.3"/><rect x="1.6" y="6.1" width="1.3" height="1.3" fill="#333" stroke="none"/></g></svg>
<div class="t" style="left:90.70px;top:951.94px;font-size:7.1px;line-height:9.23px;color:#2a2a2a;font-weight:normal;transform:scaleX(0.861);transform-origin:0 50%;letter-spacing:0.25px;">P4020_192_168_60_1</div>
<svg style="position:absolute;left:78.70px;top:964.51px;" width="10" height="10" viewBox="0 0 10 10"><g fill="none" stroke="#333" stroke-width="0.9"><rect x="0.5" y="1.3" width="8.6" height="7" rx="1.3"/><path d="M0.6 2.6H9" stroke-width="1.4"/><rect x="6.5" y="3.6" width="1.8" height="3.8" fill="#333" stroke="none"/><path d="M1.6 6.8H5.4"/></g></svg>
<div class="t" style="left:90.70px;top:964.89px;font-size:7.1px;line-height:9.23px;color:#2a2a2a;font-weight:normal;transform:scaleX(0.860);transform-origin:0 50%;letter-spacing:0.25px;">TeSysT</div>
<svg style="position:absolute;left:57.20px;top:979.47px;" width="7" height="5" viewBox="0 0 7 5"><path d="M0.8 0.8L3.5 3.5L6.2 0.8" fill="none" stroke="#8a8a8a" stroke-width="0.8"/></svg>
<svg style="position:absolute;left:67.50px;top:977.47px;" width="10" height="10" viewBox="0 0 10 10"><g fill="none" stroke="#333" stroke-width="0.9"><rect x="0.5" y="0.6" width="8.6" height="6.4" rx="1.2"/><path d="M4.8 7V9M2.4 9.2H7.2"/></g></svg>
<div class="t" style="left:79.50px;top:977.85px;font-size:7.1px;line-height:9.23px;color:#2a2a2a;font-weight:normal;transform:scaleX(0.854);transform-origin:0 50%;letter-spacing:0.25px;">Workstation_1</div>
<svg style="position:absolute;left:78.70px;top:990.42px;" width="10" height="10" viewBox="0 0 10 10"><g fill="none" stroke="#333" stroke-width="0.9"><path d="M8.6 0.5V8.2M8.6 2.8H2.5C1.3 2.8 0.6 3.5 0.6 4.6V7.2C0.6 7.8 1 8.2 1.6 8.2H8.6"/><rect x="2.2" y="5.6" width="1.3" height="1.3" fill="#333" stroke="none"/></g></svg>
<div class="t" style="left:90.70px;top:990.80px;font-size:7.1px;line-height:9.23px;color:#2a2a2a;font-weight:normal;transform:scaleX(0.861);transform-origin:0 50%;letter-spacing:0.25px;">NIC_1</div>
<svg style="position:absolute;left:67.50px;top:1003.38px;" width="10" height="10" viewBox="0 0 10 10"><g fill="none" stroke="#333" stroke-width="0.9"><rect x="0.5" y="1" width="8" height="7.6" rx="1" fill="#e6e6e6"/><path d="M1.6 3H3L5.8 6.6H7.4M1.6 6.6H3L5.8 3H7.4" stroke-width="1.1"/><path d="M6.6 2L7.6 3L6.6 4M6.6 5.6L7.6 6.6L6.6 7.6"/></g></svg>
<div class="t" style="left:79.50px;top:1003.76px;font-size:7.1px;line-height:9.23px;color:#2a2a2a;font-weight:normal;transform:scaleX(0.855);transform-origin:0 50%;letter-spacing:0.25px;">Routing_Switch_1</div>
<div style="position:absolute;left:30.00px;top:1018.00px;width:219.80px;height:20.00px;background:#3dcd58"></div>
<div class="t" style="left:37.00px;top:1022.96px;font-size:7.3px;line-height:9.49px;color:#fff;font-weight:normal;transform:scaleX(0.826);transform-origin:0 50%;">TOOLBOX: CATALOG</div>
<svg style="position:absolute;left:237.20px;top:1024.50px;" width="6.6" height="6.6" viewBox="0 0 6.6 6.6"><path d="M1 1L5.6 5.6M5.6 1L1 5.6" stroke="#fff" stroke-width="1.3"/></svg>
<div style="position:absolute;left:30.00px;top:1038.00px;width:219.80px;height:116.50px;background:#fff;border:1px solid #e3e3e3;border-top:none;box-sizing:border-box"></div>
<svg style="position:absolute;left:35.00px;top:1043.70px;" width="8" height="8" viewBox="0 0 8 8"><g fill="none" stroke="#3a3a3a" stroke-width="0.85" stroke-linejoin="round"><path d="M0.5 2.8L2.8 0.5H7.5L5.2 2.8Z"/><path d="M5.2 2.8L7.5 0.5V5.2L5.2 7.5"/><rect x="0.5" y="2.8" width="4.7" height="4.7" rx="1"/><path d="M3.6 2.6L5.8 0.6M4.6 2.7L6.8 0.6M5.6 3.6L7.4 1.8M5.6 4.8L7.4 3" stroke-width="0.5"/></g><circle cx="2.85" cy="5.15" r="0.6" fill="#3a3a3a"/></svg>
<svg style="position:absolute;left:48.00px;top:1043.70px;" width="8" height="8" viewBox="0 0 8 8"><g fill="none" stroke="#3a3a3a" stroke-width="0.85" stroke-linejoin="round"><path d="M0.5 2.8L2.8 0.5H7.5L5.2 2.8Z"/><path d="M5.2 2.8L7.5 0.5V5.2L5.2 7.5"/><rect x="0.5" y="2.8" width="4.7" height="4.7" rx="1"/><path d="M3.6 2.6L5.8 0.6M4.6 2.7L6.8 0.6M5.6 3.6L7.4 1.8M5.6 4.8L7.4 3" stroke-width="0.5"/></g><circle cx="2.85" cy="5.15" r="0.6" fill="#3a3a3a"/></svg>
<div style="position:absolute;left:61.00px;top:1041.40px;width:170.40px;height:12.80px;border:1px solid #e2e2e2;border-radius:2px;box-sizing:border-box;background:#fff"></div>
<svg style="position:absolute;left:220.40px;top:1043.80px;" width="8" height="8" viewBox="0 0 8 8"><g fill="none" stroke="#ddd" stroke-width="0.9"><circle cx="3.2" cy="3.2" r="2.5"/><path d="M5 5L7.5 7.5"/></g></svg>
<svg style="position:absolute;left:236.00px;top:1044.00px;" width="9" height="8" viewBox="0 0 9 8"><path d="M0.8 0.8H8.2L5.3 4.2V7.5L3.7 6.5V4.2Z" fill="none" stroke="#444" stroke-width="0.9"/></svg>
<div style="position:absolute;left:31.00px;top:1057.40px;width:217.80px;height:12.96px;background:#f6f6f6;border-bottom:1px solid #e9e9e9;box-sizing:border-box"></div>
<svg style="position:absolute;left:35.20px;top:1060.60px;" width="5" height="7" viewBox="0 0 5 7"><path d="M0.8 0.8L3.5 3.5L0.8 6.2" fill="none" stroke="#777" stroke-width="0.8"/></svg>
<div class="t" style="left:43.40px;top:1059.56px;font-size:7.3px;line-height:9.49px;color:#2d2d2d;font-weight:normal;transform:scaleX(0.872);transform-origin:0 50%;letter-spacing:0.2px;">Automation Devices</div>
<div style="position:absolute;left:31.00px;top:1070.36px;width:217.80px;height:12.96px;background:#f6f6f6;border-bottom:1px solid #e9e9e9;box-sizing:border-box"></div>
<svg style="position:absolute;left:35.20px;top:1073.56px;" width="5" height="7" viewBox="0 0 5 7"><path d="M0.8 0.8L3.5 3.5L0.8 6.2" fill="none" stroke="#777" stroke-width="0.8"/></svg>
<div class="t" style="left:43.40px;top:1072.52px;font-size:7.3px;line-height:9.49px;color:#2d2d2d;font-weight:normal;transform:scaleX(0.871);transform-origin:0 50%;letter-spacing:0.2px;">Edge I/O Devices</div>
<div style="position:absolute;left:31.00px;top:1083.32px;width:217.80px;height:12.96px;background:#f6f6f6;border-bottom:1px solid #e9e9e9;box-sizing:border-box"></div>
<svg style="position:absolute;left:35.20px;top:1086.52px;" width="5" height="7" viewBox="0 0 5 7"><path d="M0.8 0.8L3.5 3.5L0.8 6.2" fill="none" stroke="#777" stroke-width="0.8"/></svg>
<div class="t" style="left:43.40px;top:1085.48px;font-size:7.3px;line-height:9.49px;color:#2d2d2d;font-weight:normal;transform:scaleX(0.873);transform-origin:0 50%;letter-spacing:0.2px;">HMI panel</div>
<div style="position:absolute;left:31.00px;top:1096.28px;width:217.80px;height:12.96px;background:#f6f6f6;border-bottom:1px solid #e9e9e9;box-sizing:border-box"></div>
<svg style="position:absolute;left:35.20px;top:1099.48px;" width="5" height="7" viewBox="0 0 5 7"><path d="M0.8 0.8L3.5 3.5L0.8 6.2" fill="none" stroke="#777" stroke-width="0.8"/></svg>
<div class="t" style="left:43.40px;top:1098.44px;font-size:7.3px;line-height:9.49px;color:#2d2d2d;font-weight:normal;transform:scaleX(0.870);transform-origin:0 50%;letter-spacing:0.2px;">Modicon PAC controllers</div>
<div style="position:absolute;left:31.00px;top:1109.24px;width:217.80px;height:12.96px;background:#f6f6f6;border-bottom:1px solid #e9e9e9;box-sizing:border-box"></div>
<svg style="position:absolute;left:35.20px;top:1112.44px;" width="5" height="7" viewBox="0 0 5 7"><path d="M0.8 0.8L3.5 3.5L0.8 6.2" fill="none" stroke="#777" stroke-width="0.8"/></svg>
<div class="t" style="left:43.40px;top:1111.40px;font-size:7.3px;line-height:9.49px;color:#2d2d2d;font-weight:normal;transform:scaleX(0.868);transform-origin:0 50%;letter-spacing:0.2px;">Network fieldbus devices</div>
<div style="position:absolute;left:31.00px;top:1122.20px;width:217.80px;height:12.96px;background:#f6f6f6;border-bottom:1px solid #e9e9e9;box-sizing:border-box"></div>
<svg style="position:absolute;left:35.20px;top:1125.40px;" width="5" height="7" viewBox="0 0 5 7"><path d="M0.8 0.8L3.5 3.5L0.8 6.2" fill="none" stroke="#777" stroke-width="0.8"/></svg>
<div class="t" style="left:43.40px;top:1124.36px;font-size:7.3px;line-height:9.49px;color:#2d2d2d;font-weight:normal;transform:scaleX(0.867);transform-origin:0 50%;letter-spacing:0.2px;">Network infrastructure devices</div>
<div style="position:absolute;left:31.00px;top:1135.16px;width:217.80px;height:12.96px;background:#f6f6f6;border-bottom:1px solid #e9e9e9;box-sizing:border-box"></div>
<svg style="position:absolute;left:35.20px;top:1138.36px;" width="5" height="7" viewBox="0 0 5 7"><path d="M0.8 0.8L3.5 3.5L0.8 6.2" fill="none" stroke="#777" stroke-width="0.8"/></svg>
<div class="t" style="left:43.40px;top:1137.32px;font-size:7.3px;line-height:9.49px;color:#2d2d2d;font-weight:normal;transform:scaleX(0.870);transform-origin:0 50%;letter-spacing:0.2px;">Workstations &amp; Servers</div>
<div style="position:absolute;left:252.00px;top:1022.00px;width:1218.00px;height:20.00px;background:#3dcd58"></div>
<div class="t" style="left:258.50px;top:1027.06px;font-size:7.3px;line-height:9.49px;color:#fff;font-weight:normal;transform:scaleX(0.805);transform-origin:0 50%;">ACTIVITIES</div>
<svg style="position:absolute;left:1457.30px;top:1028.50px;" width="6.6" height="6.6" viewBox="0 0 6.6 6.6"><path d="M1 1L5.6 5.6M5.6 1L1 5.6" stroke="#fff" stroke-width="1.3"/></svg>
<div style="position:absolute;left:252.00px;top:1042.00px;width:1218.00px;height:112.50px;background:#fff;border:1px solid #e3e3e3;border-top:none;box-sizing:border-box"></div>
<svg style="position:absolute;left:257.00px;top:1047.70px;" width="8" height="8" viewBox="0 0 8 8"><g fill="none" stroke="#3a3a3a" stroke-width="0.85" stroke-linejoin="round"><path d="M0.5 2.8L2.8 0.5H7.5L5.2 2.8Z"/><path d="M5.2 2.8L7.5 0.5V5.2L5.2 7.5"/><rect x="0.5" y="2.8" width="4.7" height="4.7" rx="1"/><path d="M3.6 2.6L5.8 0.6M4.6 2.7L6.8 0.6M5.6 3.6L7.4 1.8M5.6 4.8L7.4 3" stroke-width="0.5"/></g><circle cx="2.85" cy="5.15" r="0.6" fill="#3a3a3a"/></svg>
<svg style="position:absolute;left:270.00px;top:1047.70px;" width="8" height="8" viewBox="0 0 8 8"><g fill="none" stroke="#3a3a3a" stroke-width="0.85" stroke-linejoin="round"><path d="M0.5 2.8L2.8 0.5H7.5L5.2 2.8Z"/><path d="M5.2 2.8L7.5 0.5V5.2L5.2 7.5"/><rect x="0.5" y="2.8" width="4.7" height="4.7" rx="1"/><path d="M3.6 2.6L5.8 0.6M4.6 2.7L6.8 0.6M5.6 3.6L7.4 1.8M5.6 4.8L7.4 3" stroke-width="0.5"/></g><circle cx="2.85" cy="5.15" r="0.6" fill="#3a3a3a"/></svg>
<div style="position:absolute;left:282.50px;top:1044.50px;width:1169.00px;height:12.80px;border:1px solid #e2e2e2;border-radius:2px;box-sizing:border-box;background:#fff"></div>
<svg style="position:absolute;left:1440.50px;top:1046.90px;" width="8" height="8" viewBox="0 0 8 8"><g fill="none" stroke="#ddd" stroke-width="0.9"><circle cx="3.2" cy="3.2" r="2.5"/><path d="M5 5L7.5 7.5"/></g></svg>
<svg style="position:absolute;left:1456.50px;top:1047.50px;" width="9" height="8" viewBox="0 0 9 8"><path d="M0.8 0.8H8.2L5.3 4.2V7.5L3.7 6.5V4.2Z" fill="none" stroke="#444" stroke-width="0.9"/></svg>
<div style="position:absolute;left:253.50px;top:1062.00px;width:1211.50px;height:15.20px;background:#e6e6e6"></div>
<div style="position:absolute;left:253.00px;top:1062.00px;width:1.00px;height:74.50px;background:#9cc8ee"></div>
<div style="position:absolute;left:1465.70px;top:1062.00px;width:2.20px;height:4.00px;background:#c6c6c6;border-radius:1px"></div>
<svg style="position:absolute;left:263.30px;top:1065.80px;" width="8" height="7.5" viewBox="0 0 8 7.5"><path d="M0.8 0.8H7.2L4.6 3.8V6.8L3.4 5.8V3.8Z" fill="none" stroke="#555" stroke-width="0.8"/></svg>
<svg style="position:absolute;left:345.20px;top:1065.80px;" width="8" height="7.5" viewBox="0 0 8 7.5"><path d="M0.8 0.8H7.2L4.6 3.8V6.8L3.4 5.8V3.8Z" fill="none" stroke="#555" stroke-width="0.8"/></svg>
<svg style="position:absolute;left:414.80px;top:1065.80px;" width="8" height="7.5" viewBox="0 0 8 7.5"><path d="M0.8 0.8H7.2L4.6 3.8V6.8L3.4 5.8V3.8Z" fill="none" stroke="#555" stroke-width="0.8"/></svg>
<svg style="position:absolute;left:504.70px;top:1065.80px;" width="8" height="7.5" viewBox="0 0 8 7.5"><path d="M0.8 0.8H7.2L4.6 3.8V6.8L3.4 5.8V3.8Z" fill="none" stroke="#555" stroke-width="0.8"/></svg>
<svg style="position:absolute;left:617.50px;top:1065.80px;" width="8" height="7.5" viewBox="0 0 8 7.5"><path d="M0.8 0.8H7.2L4.6 3.8V6.8L3.4 5.8V3.8Z" fill="none" stroke="#555" stroke-width="0.8"/></svg>
<svg style="position:absolute;left:670.70px;top:1065.80px;" width="8" height="7.5" viewBox="0 0 8 7.5"><path d="M0.8 0.8H7.2L4.6 3.8V6.8L3.4 5.8V3.8Z" fill="none" stroke="#555" stroke-width="0.8"/></svg>
<svg style="position:absolute;left:726.70px;top:1065.80px;" width="8" height="7.5" viewBox="0 0 8 7.5"><path d="M0.8 0.8H7.2L4.6 3.8V6.8L3.4 5.8V3.8Z" fill="none" stroke="#555" stroke-width="0.8"/></svg>
<svg style="position:absolute;left:783.20px;top:1065.80px;" width="8" height="7.5" viewBox="0 0 8 7.5"><path d="M0.8 0.8H7.2L4.6 3.8V6.8L3.4 5.8V3.8Z" fill="none" stroke="#555" stroke-width="0.8"/></svg>
<svg style="position:absolute;left:916.00px;top:1065.80px;" width="8" height="7.5" viewBox="0 0 8 7.5"><path d="M0.8 0.8H7.2L4.6 3.8V6.8L3.4 5.8V3.8Z" fill="none" stroke="#555" stroke-width="0.8"/></svg>
<svg style="position:absolute;left:1197.60px;top:1065.80px;" width="8" height="7.5" viewBox="0 0 8 7.5"><path d="M0.8 0.8H7.2L4.6 3.8V6.8L3.4 5.8V3.8Z" fill="none" stroke="#555" stroke-width="0.8"/></svg>
<div style="position:absolute;left:355.20px;top:1064.00px;width:0.70px;height:11.00px;background:#d2d2d2"></div>
<div style="position:absolute;left:424.80px;top:1064.00px;width:0.70px;height:11.00px;background:#d2d2d2"></div>
<div style="position:absolute;left:514.70px;top:1064.00px;width:0.70px;height:11.00px;background:#d2d2d2"></div>
<div style="position:absolute;left:627.50px;top:1064.00px;width:0.70px;height:11.00px;background:#d2d2d2"></div>
<div style="position:absolute;left:680.70px;top:1064.00px;width:0.70px;height:11.00px;background:#d2d2d2"></div>
<div style="position:absolute;left:736.70px;top:1064.00px;width:0.70px;height:11.00px;background:#d2d2d2"></div>
<div style="position:absolute;left:793.20px;top:1064.00px;width:0.70px;height:11.00px;background:#d2d2d2"></div>
<div style="position:absolute;left:926.00px;top:1064.00px;width:0.70px;height:11.00px;background:#d2d2d2"></div>
<div style="position:absolute;left:1207.60px;top:1064.00px;width:0.70px;height:11.00px;background:#d2d2d2"></div>
<div class="t" style="left:276.70px;top:1064.33px;font-size:7.8px;line-height:10.14px;color:#333;font-weight:normal;transform:scaleX(0.805);transform-origin:0 50%;letter-spacing:0.2px;">Start Time</div>
<div class="t" style="left:361.50px;top:1064.33px;font-size:7.8px;line-height:10.14px;color:#333;font-weight:normal;transform:scaleX(0.809);transform-origin:0 50%;letter-spacing:0.2px;">Elapsed Time</div>
<div class="t" style="left:431.30px;top:1064.33px;font-size:7.8px;line-height:10.14px;color:#333;font-weight:normal;transform:scaleX(0.811);transform-origin:0 50%;letter-spacing:0.2px;">User</div>
<div class="t" style="left:521.50px;top:1064.33px;font-size:7.8px;line-height:10.14px;color:#333;font-weight:normal;transform:scaleX(0.813);transform-origin:0 50%;letter-spacing:0.2px;">Machine Name</div>
<div class="t" style="left:633.30px;top:1064.33px;font-size:7.8px;line-height:10.14px;color:#333;font-weight:normal;transform:scaleX(0.798);transform-origin:0 50%;letter-spacing:0.2px;">Activity</div>
<div class="t" style="left:687.20px;top:1064.33px;font-size:7.8px;line-height:10.14px;color:#333;font-weight:normal;transform:scaleX(0.813);transform-origin:0 50%;letter-spacing:0.2px;">System</div>
<div class="t" style="left:743.50px;top:1064.33px;font-size:7.8px;line-height:10.14px;color:#333;font-weight:normal;transform:scaleX(0.814);transform-origin:0 50%;letter-spacing:0.2px;">Domain</div>
<div class="t" style="left:799.50px;top:1064.33px;font-size:7.8px;line-height:10.14px;color:#333;font-weight:normal;transform:scaleX(0.807);transform-origin:0 50%;letter-spacing:0.2px;">Object</div>
<div class="t" style="left:932.50px;top:1064.33px;font-size:7.8px;line-height:10.14px;color:#333;font-weight:normal;transform:scaleX(0.805);transform-origin:0 50%;letter-spacing:0.2px;">Description</div>
<div style="position:absolute;left:254px;top:1077px;width:1211px;height:59.7px;overflow:hidden">
<div style="position:absolute;left:0.00px;top:13.40px;width:1211.00px;height:0.60px;background:#f5f5f5"></div>
<svg style="position:absolute;left:4px;top:2.40px" width="10" height="10" viewBox="0 0 10 10"><circle cx="5" cy="5" r="4.6" fill="#1ea84a"/><path d="M2.7 5L4.4 6.8L7.4 3.3" fill="none" stroke="#fff" stroke-width="1.3"/></svg>
<div class="t" style="left:20.80px;top:1.80px;font-size:8.0px;line-height:10.40px;color:#2a2a2a;font-weight:normal;transform:scaleX(0.790);transform-origin:0 50%;letter-spacing:0.2px;">8/14/2024 2:39:28 PM</div>
<div class="t" style="left:104.80px;top:1.80px;font-size:8.0px;line-height:10.40px;color:#2a2a2a;font-weight:normal;transform:scaleX(0.789);transform-origin:0 50%;letter-spacing:0.2px;">00:00:02</div>
<div class="t" style="left:174.70px;top:1.80px;font-size:8.0px;line-height:10.40px;color:#2a2a2a;font-weight:normal;transform:scaleX(0.789);transform-origin:0 50%;letter-spacing:0.2px;">Mickaël</div>
<div class="t" style="left:264.80px;top:1.80px;font-size:8.0px;line-height:10.40px;color:#2a2a2a;font-weight:normal;transform:scaleX(0.798);transform-origin:0 50%;letter-spacing:0.2px;">WTFRLVSE209509L</div>
<div class="t" style="left:377.50px;top:1.80px;font-size:8.0px;line-height:10.40px;color:#2a2a2a;font-weight:normal;transform:scaleX(0.789);transform-origin:0 50%;letter-spacing:0.2px;">Delete</div>
<div class="t" style="left:430.80px;top:1.80px;font-size:8.0px;line-height:10.40px;color:#2a2a2a;font-weight:normal;transform:scaleX(0.794);transform-origin:0 50%;letter-spacing:0.2px;">System_1</div>
<div class="t" style="left:487.30px;top:1.80px;font-size:8.0px;line-height:10.40px;color:#2a2a2a;font-weight:normal;transform:scaleX(0.791);transform-origin:0 50%;letter-spacing:0.2px;">Topology</div>
<div class="t" style="left:543.30px;top:1.80px;font-size:8.0px;line-height:10.40px;color:#2a2a2a;font-weight:normal;transform:scaleX(0.790);transform-origin:0 50%;letter-spacing:0.2px;">Folder_1</div>
<div class="t" style="left:676.10px;top:1.80px;font-size:8.0px;line-height:10.40px;color:#2a2a2a;font-weight:normal;transform:scaleX(0.788);transform-origin:0 50%;letter-spacing:0.2px;">Delete Folder (Completed)</div>
<div style="position:absolute;left:0.00px;top:26.35px;width:1211.00px;height:0.60px;background:#f5f5f5"></div>
<svg style="position:absolute;left:4px;top:15.35px" width="10" height="10" viewBox="0 0 10 10"><circle cx="5" cy="5" r="4.6" fill="#1ea84a"/><path d="M2.7 5L4.4 6.8L7.4 3.3" fill="none" stroke="#fff" stroke-width="1.3"/></svg>
<div class="t" style="left:20.80px;top:14.75px;font-size:8.0px;line-height:10.40px;color:#2a2a2a;font-weight:normal;transform:scaleX(0.790);transform-origin:0 50%;letter-spacing:0.2px;">8/14/2024 2:38:33 PM</div>
<div class="t" style="left:104.80px;top:14.75px;font-size:8.0px;line-height:10.40px;color:#2a2a2a;font-weight:normal;transform:scaleX(0.789);transform-origin:0 50%;letter-spacing:0.2px;">00:00:00</div>
<div class="t" style="left:174.70px;top:14.75px;font-size:8.0px;line-height:10.40px;color:#2a2a2a;font-weight:normal;transform:scaleX(0.789);transform-origin:0 50%;letter-spacing:0.2px;">Mickaël</div>
<div class="t" style="left:264.80px;top:14.75px;font-size:8.0px;line-height:10.40px;color:#2a2a2a;font-weight:normal;transform:scaleX(0.798);transform-origin:0 50%;letter-spacing:0.2px;">WTFRLVSE209509L</div>
<div class="t" style="left:377.50px;top:14.75px;font-size:8.0px;line-height:10.40px;color:#2a2a2a;font-weight:normal;transform:scaleX(0.793);transform-origin:0 50%;letter-spacing:0.2px;">Update</div>
<div class="t" style="left:430.80px;top:14.75px;font-size:8.0px;line-height:10.40px;color:#2a2a2a;font-weight:normal;transform:scaleX(0.794);transform-origin:0 50%;letter-spacing:0.2px;">System_1</div>
<div class="t" style="left:487.30px;top:14.75px;font-size:8.0px;line-height:10.40px;color:#2a2a2a;font-weight:normal;transform:scaleX(0.791);transform-origin:0 50%;letter-spacing:0.2px;">Topology</div>
<div class="t" style="left:543.30px;top:14.75px;font-size:8.0px;line-height:10.40px;color:#2a2a2a;font-weight:normal;transform:scaleX(0.791);transform-origin:0 50%;letter-spacing:0.2px;">Wire 42039</div>
<div class="t" style="left:676.10px;top:14.75px;font-size:8.0px;line-height:10.40px;color:#2a2a2a;font-weight:normal;transform:scaleX(0.790);transform-origin:0 50%;letter-spacing:0.2px;">Update Wire (Completed)</div>
<div style="position:absolute;left:0.00px;top:39.30px;width:1211.00px;height:0.60px;background:#f5f5f5"></div>
<svg style="position:absolute;left:4px;top:28.30px" width="10" height="10" viewBox="0 0 10 10"><circle cx="5" cy="5" r="4.6" fill="#1ea84a"/><path d="M2.7 5L4.4 6.8L7.4 3.3" fill="none" stroke="#fff" stroke-width="1.3"/></svg>
<div class="t" style="left:20.80px;top:27.70px;font-size:8.0px;line-height:10.40px;color:#2a2a2a;font-weight:normal;transform:scaleX(0.790);transform-origin:0 50%;letter-spacing:0.2px;">8/14/2024 2:38:29 PM</div>
<div class="t" style="left:104.80px;top:27.70px;font-size:8.0px;line-height:10.40px;color:#2a2a2a;font-weight:normal;transform:scaleX(0.789);transform-origin:0 50%;letter-spacing:0.2px;">00:00:00</div>
<div class="t" style="left:174.70px;top:27.70px;font-size:8.0px;line-height:10.40px;color:#2a2a2a;font-weight:normal;transform:scaleX(0.789);transform-origin:0 50%;letter-spacing:0.2px;">Mickaël</div>
<div class="t" style="left:264.80px;top:27.70px;font-size:8.0px;line-height:10.40px;color:#2a2a2a;font-weight:normal;transform:scaleX(0.798);transform-origin:0 50%;letter-spacing:0.2px;">WTFRLVSE209509L</div>
<div class="t" style="left:377.50px;top:27.70px;font-size:8.0px;line-height:10.40px;color:#2a2a2a;font-weight:normal;transform:scaleX(0.790);transform-origin:0 50%;letter-spacing:0.2px;">Create</div>
<div class="t" style="left:430.80px;top:27.70px;font-size:8.0px;line-height:10.40px;color:#2a2a2a;font-weight:normal;transform:scaleX(0.794);transform-origin:0 50%;letter-spacing:0.2px;">System_1</div>
<div class="t" style="left:487.30px;top:27.70px;font-size:8.0px;line-height:10.40px;color:#2a2a2a;font-weight:normal;transform:scaleX(0.791);transform-origin:0 50%;letter-spacing:0.2px;">Topology</div>
<div class="t" style="left:543.30px;top:27.70px;font-size:8.0px;line-height:10.40px;color:#2a2a2a;font-weight:normal;transform:scaleX(0.791);transform-origin:0 50%;letter-spacing:0.2px;">Wire 42039</div>
<div class="t" style="left:676.10px;top:27.70px;font-size:8.0px;line-height:10.40px;color:#2a2a2a;font-weight:normal;transform:scaleX(0.789);transform-origin:0 50%;letter-spacing:0.2px;">Create Wire (Completed)</div>
<div style="position:absolute;left:0.00px;top:52.25px;width:1211.00px;height:0.60px;background:#f5f5f5"></div>
<svg style="position:absolute;left:4px;top:41.25px" width="10" height="10" viewBox="0 0 10 10"><circle cx="5" cy="5" r="4.6" fill="#1ea84a"/><path d="M2.7 5L4.4 6.8L7.4 3.3" fill="none" stroke="#fff" stroke-width="1.3"/></svg>
<div class="t" style="left:20.80px;top:40.65px;font-size:8.0px;line-height:10.40px;color:#2a2a2a;font-weight:normal;transform:scaleX(0.790);transform-origin:0 50%;letter-spacing:0.2px;">8/14/2024 2:38:27 PM</div>
<div class="t" style="left:104.80px;top:40.65px;font-size:8.0px;line-height:10.40px;color:#2a2a2a;font-weight:normal;transform:scaleX(0.789);transform-origin:0 50%;letter-spacing:0.2px;">00:00:00</div>
<div class="t" style="left:174.70px;top:40.65px;font-size:8.0px;line-height:10.40px;color:#2a2a2a;font-weight:normal;transform:scaleX(0.789);transform-origin:0 50%;letter-spacing:0.2px;">Mickaël</div>
<div class="t" style="left:264.80px;top:40.65px;font-size:8.0px;line-height:10.40px;color:#2a2a2a;font-weight:normal;transform:scaleX(0.798);transform-origin:0 50%;letter-spacing:0.2px;">WTFRLVSE209509L</div>
<div class="t" style="left:377.50px;top:40.65px;font-size:8.0px;line-height:10.40px;color:#2a2a2a;font-weight:normal;transform:scaleX(0.793);transform-origin:0 50%;letter-spacing:0.2px;">Update</div>
<div class="t" style="left:430.80px;top:40.65px;font-size:8.0px;line-height:10.40px;color:#2a2a2a;font-weight:normal;transform:scaleX(0.794);transform-origin:0 50%;letter-spacing:0.2px;">System_1</div>
<div class="t" style="left:487.30px;top:40.65px;font-size:8.0px;line-height:10.40px;color:#2a2a2a;font-weight:normal;transform:scaleX(0.791);transform-origin:0 50%;letter-spacing:0.2px;">Topology</div>
<div class="t" style="left:543.30px;top:40.65px;font-size:8.0px;line-height:10.40px;color:#2a2a2a;font-weight:normal;transform:scaleX(0.791);transform-origin:0 50%;letter-spacing:0.2px;">Wire 42014</div>
<div class="t" style="left:676.10px;top:40.65px;font-size:8.0px;line-height:10.40px;color:#2a2a2a;font-weight:normal;transform:scaleX(0.790);transform-origin:0 50%;letter-spacing:0.2px;">Update Wire (Completed)</div>
<div style="position:absolute;left:0.00px;top:65.20px;width:1211.00px;height:0.60px;background:#f5f5f5"></div>
<svg style="position:absolute;left:4px;top:54.20px" width="10" height="10" viewBox="0 0 10 10"><circle cx="5" cy="5" r="4.6" fill="#1ea84a"/><path d="M2.7 5L4.4 6.8L7.4 3.3" fill="none" stroke="#fff" stroke-width="1.3"/></svg>
<div class="t" style="left:20.80px;top:53.60px;font-size:8.0px;line-height:10.40px;color:#2a2a2a;font-weight:normal;transform:scaleX(0.790);transform-origin:0 50%;letter-spacing:0.2px;">8/14/2024 2:38:21 PM</div>
<div class="t" style="left:104.80px;top:53.60px;font-size:8.0px;line-height:10.40px;color:#2a2a2a;font-weight:normal;transform:scaleX(0.789);transform-origin:0 50%;letter-spacing:0.2px;">00:00:00</div>
<div class="t" style="left:174.70px;top:53.60px;font-size:8.0px;line-height:10.40px;color:#2a2a2a;font-weight:normal;transform:scaleX(0.789);transform-origin:0 50%;letter-spacing:0.2px;">Mickaël</div>
<div class="t" style="left:264.80px;top:53.60px;font-size:8.0px;line-height:10.40px;color:#2a2a2a;font-weight:normal;transform:scaleX(0.798);transform-origin:0 50%;letter-spacing:0.2px;">WTFRLVSE209509L</div>
<div class="t" style="left:377.50px;top:53.60px;font-size:8.0px;line-height:10.40px;color:#2a2a2a;font-weight:normal;transform:scaleX(0.797);transform-origin:0 50%;letter-spacing:0.2px;">Move</div>
<div class="t" style="left:430.80px;top:53.60px;font-size:8.0px;line-height:10.40px;color:#2a2a2a;font-weight:normal;transform:scaleX(0.794);transform-origin:0 50%;letter-spacing:0.2px;">System_1</div>
<div class="t" style="left:487.30px;top:53.60px;font-size:8.0px;line-height:10.40px;color:#2a2a2a;font-weight:normal;transform:scaleX(0.791);transform-origin:0 50%;letter-spacing:0.2px;">Topology</div>
<div class="t" style="left:543.30px;top:53.60px;font-size:8.0px;line-height:10.40px;color:#2a2a2a;font-weight:normal;transform:scaleX(0.791);transform-origin:0 50%;letter-spacing:0.2px;">Server_1</div>
<div class="t" style="left:676.10px;top:53.60px;font-size:8.0px;line-height:10.40px;color:#2a2a2a;font-weight:normal;transform:scaleX(0.791);transform-origin:0 50%;letter-spacing:0.2px;">Move Device (Completed)</div>
</div>
<div style="position:absolute;left:253.00px;top:1136.70px;width:1216.00px;height:0.80px;background:#ddd"></div>
<div class="t" style="left:259.30px;top:1141.05px;font-size:7.0px;line-height:9.10px;color:#3dcd58;font-weight:normal;transform:scaleX(0.881);transform-origin:0 50%;">OPERATIONS</div>
<div style="position:absolute;left:257.30px;top:1148.80px;width:44.00px;height:1.30px;background:#3dcd58"></div>
<div class="t" style="left:310.80px;top:1141.05px;font-size:7.0px;line-height:9.10px;color:#333;font-weight:bold;transform:scaleX(0.833);transform-origin:0 50%;">DETAILS</div>
<div class="t" style="left:1311.00px;top:403.15px;font-size:7.0px;line-height:9.10px;color:#333;font-weight:bold;transform:scaleX(0.879);transform-origin:0 50%;">SERVICES</div>
<div class="t" style="left:1365.80px;top:403.15px;font-size:7.0px;line-height:9.10px;color:#333;font-weight:bold;transform:scaleX(0.873);transform-origin:0 50%;">SECURITY</div>
<div class="t" style="left:1420.00px;top:403.15px;font-size:7.0px;line-height:9.10px;color:#333;font-weight:bold;transform:scaleX(0.877);transform-origin:0 50%;">I/O PROFILE</div>
<div class="t" style="left:1318.00px;top:419.05px;font-size:7.0px;line-height:9.10px;color:#333;font-weight:bold;transform:scaleX(0.884);transform-origin:0 50%;">DESCRIPTION</div>
<div class="t" style="left:1397.90px;top:419.05px;font-size:7.0px;line-height:9.10px;color:#3dcd58;font-weight:bold;transform:scaleX(0.877);transform-origin:0 50%;">CONFIGURATION</div>
<div style="position:absolute;left:1396.50px;top:427.50px;width:54.50px;height:1.30px;background:#3dcd58"></div>
<div style="position:absolute;left:1297.50px;top:431.20px;width:171.50px;height:0.80px;background:#e8e8e8"></div>
<svg style="position:absolute;left:1303.00px;top:438.20px;" width="8" height="8" viewBox="0 0 8 8"><g fill="none" stroke="#3a3a3a" stroke-width="0.85" stroke-linejoin="round"><path d="M0.5 2.8L2.8 0.5H7.5L5.2 2.8Z"/><path d="M5.2 2.8L7.5 0.5V5.2L5.2 7.5"/><rect x="0.5" y="2.8" width="4.7" height="4.7" rx="1"/><path d="M3.6 2.6L5.8 0.6M4.6 2.7L6.8 0.6M5.6 3.6L7.4 1.8M5.6 4.8L7.4 3" stroke-width="0.5"/></g><circle cx="2.85" cy="5.15" r="0.6" fill="#3a3a3a"/></svg>
<svg style="position:absolute;left:1316.00px;top:438.20px;" width="8" height="8" viewBox="0 0 8 8"><g fill="none" stroke="#3a3a3a" stroke-width="0.85" stroke-linejoin="round"><path d="M0.5 2.8L2.8 0.5H7.5L5.2 2.8Z"/><path d="M5.2 2.8L7.5 0.5V5.2L5.2 7.5"/><rect x="0.5" y="2.8" width="4.7" height="4.7" rx="1"/><path d="M3.6 2.6L5.8 0.6M4.6 2.7L6.8 0.6M5.6 3.6L7.4 1.8M5.6 4.8L7.4 3" stroke-width="0.5"/></g><circle cx="2.85" cy="5.15" r="0.6" fill="#3a3a3a"/></svg>
<div style="position:absolute;left:1332.50px;top:435.00px;width:132.00px;height:13.20px;border:1px solid #e2e2e2;border-radius:2px;box-sizing:border-box;background:#fff"></div>
<svg style="position:absolute;left:1453.50px;top:437.60px;" width="8" height="8" viewBox="0 0 8 8"><g fill="none" stroke="#ddd" stroke-width="0.9"><circle cx="3.2" cy="3.2" r="2.5"/><path d="M5 5L7.5 7.5"/></g></svg>
<div style="position:absolute;left:1297.50px;top:451.50px;width:171.50px;height:0.80px;background:#e8e8e8"></div>
<div style="position:absolute;left:1466.60px;top:453.60px;width:2.20px;height:453.50px;background:#c6c6c6;border-radius:1px"></div>
<div style="position:absolute;left:1297.5px;top:452.3px;width:168px;height:522.5px;overflow:hidden">
<div style="position:absolute;left:0.00px;top:0.23px;width:168.00px;height:12.94px;background:#f2f2f2"></div>
<svg style="position:absolute;left:1.80px;top:4.20px;" width="7" height="5" viewBox="0 0 7 5"><path d="M0.8 0.8L3.5 3.5L6.2 0.8" fill="none" stroke="#888" stroke-width="0.8"/></svg>
<div class="t" style="left:12.20px;top:1.95px;font-size:7.3px;line-height:9.49px;color:#333;font-weight:normal;transform:scaleX(0.863);transform-origin:0 50%;letter-spacing:0.2px;">General</div>
<div style="position:absolute;left:89.90px;top:13.93px;width:0.80px;height:12.94px;background:#ececec"></div>
<div style="position:absolute;left:3.00px;top:26.27px;width:162.00px;height:0.60px;background:#f6f6f6"></div>
<div class="t" style="left:21.50px;top:15.65px;font-size:7.3px;line-height:9.49px;color:#333;font-weight:normal;transform:scaleX(0.874);transform-origin:0 50%;letter-spacing:0.2px;">Name</div>
<div class="t" style="left:93.00px;top:15.65px;font-size:7.3px;line-height:9.49px;color:#a6a6a6;font-weight:normal;transform:scaleX(0.866);transform-origin:0 50%;letter-spacing:0.2px;">BME H58 4040 #0</div>
<div style="position:absolute;left:89.90px;top:26.83px;width:0.80px;height:12.94px;background:#ececec"></div>
<div style="position:absolute;left:3.00px;top:39.17px;width:162.00px;height:0.60px;background:#f6f6f6"></div>
<div class="t" style="left:21.50px;top:28.56px;font-size:7.3px;line-height:9.49px;color:#333;font-weight:normal;transform:scaleX(0.864);transform-origin:0 50%;letter-spacing:0.2px;">Part Number</div>
<div class="t" style="left:93.00px;top:28.56px;font-size:7.3px;line-height:9.49px;color:#a6a6a6;font-weight:normal;transform:scaleX(0.868);transform-origin:0 50%;letter-spacing:0.2px;">BME H58 4040</div>
<div style="position:absolute;left:89.90px;top:39.83px;width:0.80px;height:12.94px;background:#ececec"></div>
<div style="position:absolute;left:3.00px;top:52.17px;width:162.00px;height:0.60px;background:#f6f6f6"></div>
<div class="t" style="left:21.50px;top:41.56px;font-size:7.3px;line-height:9.49px;color:#333;font-weight:normal;transform:scaleX(0.861);transform-origin:0 50%;letter-spacing:0.2px;">Version</div>
<div class="t" style="left:93.00px;top:41.56px;font-size:7.3px;line-height:9.49px;color:#a6a6a6;font-weight:normal;transform:scaleX(0.863);transform-origin:0 50%;letter-spacing:0.2px;">04.30</div>
<div style="position:absolute;left:89.90px;top:52.73px;width:0.80px;height:12.94px;background:#ececec"></div>
<div style="position:absolute;left:3.00px;top:65.07px;width:162.00px;height:0.60px;background:#f6f6f6"></div>
<div class="t" style="left:21.50px;top:54.45px;font-size:7.3px;line-height:9.49px;color:#333;font-weight:normal;transform:scaleX(0.871);transform-origin:0 50%;letter-spacing:0.2px;">Comment</div>
<div style="position:absolute;left:89.90px;top:65.73px;width:0.80px;height:12.94px;background:#ececec"></div>
<div style="position:absolute;left:3.00px;top:78.07px;width:162.00px;height:0.60px;background:#f6f6f6"></div>
<div class="t" style="left:21.50px;top:67.45px;font-size:7.3px;line-height:9.49px;color:#333;font-weight:normal;transform:scaleX(0.864);transform-origin:0 50%;letter-spacing:0.2px;">Path</div>
<div class="t" style="left:93.00px;top:67.45px;font-size:7.3px;line-height:9.49px;color:#a6a6a6;font-weight:normal;transform:scaleX(0.869);transform-origin:0 50%;letter-spacing:0.2px;">M580_A_2\BME XBP 0800</div>
<div style="position:absolute;left:89.90px;top:78.63px;width:0.80px;height:12.94px;background:#ececec"></div>
<div style="position:absolute;left:3.00px;top:90.97px;width:162.00px;height:0.60px;background:#f6f6f6"></div>
<div class="t" style="left:21.50px;top:80.35px;font-size:7.3px;line-height:9.49px;color:#333;font-weight:normal;transform:scaleX(0.861);transform-origin:0 50%;letter-spacing:0.2px;">Under Construction</div>
<div style="position:absolute;left:92.80px;top:80.80px;width:8.7px;height:8.7px;border:0.8px solid #ececec;box-sizing:border-box;border-radius:1px;background:#fafafa"></div>
<div style="position:absolute;left:89.90px;top:91.63px;width:0.80px;height:12.94px;background:#ececec"></div>
<div style="position:absolute;left:3.00px;top:103.97px;width:162.00px;height:0.60px;background:#f6f6f6"></div>
<svg style="position:absolute;left:13.90px;top:94.60px;" width="5" height="7" viewBox="0 0 5 7"><path d="M0.8 0.8L3.5 3.5L0.8 6.2" fill="none" stroke="#888" stroke-width="0.8"/></svg>
<div class="t" style="left:21.50px;top:93.35px;font-size:7.3px;line-height:9.49px;color:#333;font-weight:normal;transform:scaleX(0.856);transform-origin:0 50%;letter-spacing:0.2px;">Configuration File</div>
<div class="t" style="left:145.00px;top:93.35px;font-size:7.3px;line-height:9.49px;color:#3e92d6;font-weight:normal;transform:scaleX(0.860);transform-origin:0 50%;letter-spacing:0.2px;">Attach</div>
<div style="position:absolute;left:145.00px;top:101.70px;width:19.50px;height:0.60px;background:#3e92d6"></div>
<div style="position:absolute;left:89.90px;top:104.53px;width:0.80px;height:12.94px;background:#ececec"></div>
<div style="position:absolute;left:3.00px;top:116.87px;width:162.00px;height:0.60px;background:#f6f6f6"></div>
<div class="t" style="left:21.50px;top:106.25px;font-size:7.3px;line-height:9.49px;color:#333;font-weight:normal;transform:scaleX(0.864);transform-origin:0 50%;letter-spacing:0.2px;">Web Page Link</div>
<div style="position:absolute;left:0.00px;top:118.63px;width:168.00px;height:12.94px;background:#f2f2f2"></div>
<svg style="position:absolute;left:1.80px;top:122.60px;" width="7" height="5" viewBox="0 0 7 5"><path d="M0.8 0.8L3.5 3.5L6.2 0.8" fill="none" stroke="#888" stroke-width="0.8"/></svg>
<div class="t" style="left:12.20px;top:120.35px;font-size:7.3px;line-height:9.49px;color:#333;font-weight:normal;transform:scaleX(0.857);transform-origin:0 50%;letter-spacing:0.2px;">Interfaces</div>
<div style="position:absolute;left:89.90px;top:131.93px;width:0.80px;height:12.94px;background:#ececec"></div>
<div style="position:absolute;left:3.00px;top:144.27px;width:162.00px;height:0.60px;background:#f6f6f6"></div>
<svg style="position:absolute;left:12.90px;top:135.90px;" width="7" height="5" viewBox="0 0 7 5"><path d="M0.8 0.8L3.5 3.5L6.2 0.8" fill="none" stroke="#888" stroke-width="0.8"/></svg>
<div class="t" style="left:21.50px;top:133.66px;font-size:7.3px;line-height:9.49px;color:#333;font-weight:normal;transform:scaleX(0.863);transform-origin:0 50%;letter-spacing:0.2px;">Embedded Interface</div>
<div style="position:absolute;left:89.90px;top:144.73px;width:0.80px;height:12.94px;background:#ececec"></div>
<div style="position:absolute;left:3.00px;top:157.07px;width:162.00px;height:0.60px;background:#f6f6f6"></div>
<svg style="position:absolute;left:20.90px;top:148.70px;" width="7" height="5" viewBox="0 0 7 5"><path d="M0.8 0.8L3.5 3.5L6.2 0.8" fill="none" stroke="#888" stroke-width="0.8"/></svg>
<div class="t" style="left:29.50px;top:146.45px;font-size:7.3px;line-height:9.49px;color:#333;font-weight:normal;transform:scaleX(0.864);transform-origin:0 50%;letter-spacing:0.2px;">MainIP</div>
<div class="t" style="left:93.00px;top:146.45px;font-size:7.3px;line-height:9.49px;color:#1e1e1e;font-weight:normal;transform:scaleX(0.862);transform-origin:0 50%;letter-spacing:0.2px;">192.168.80.100</div>
<div style="position:absolute;left:89.90px;top:157.83px;width:0.80px;height:12.94px;background:#ececec"></div>
<div style="position:absolute;left:3.00px;top:170.17px;width:162.00px;height:0.60px;background:#f6f6f6"></div>
<svg style="position:absolute;left:29.00px;top:161.80px;" width="7" height="5" viewBox="0 0 7 5"><path d="M0.8 0.8L3.5 3.5L6.2 0.8" fill="none" stroke="#888" stroke-width="0.8"/></svg>
<div class="t" style="left:37.50px;top:159.56px;font-size:7.3px;line-height:9.49px;color:#333;font-weight:normal;transform:scaleX(0.860);transform-origin:0 50%;letter-spacing:0.2px;">Logical Network</div>
<div class="t" style="left:93.00px;top:159.56px;font-size:7.3px;line-height:9.49px;color:#2a2a2a;font-weight:normal;transform:scaleX(0.860);transform-origin:0 50%;letter-spacing:0.2px;">Logical Network 2</div>
<svg style="position:absolute;left:156.00px;top:161.80px;" width="7" height="5" viewBox="0 0 7 5"><path d="M0.8 0.8L3.5 3.5L6.2 0.8" fill="none" stroke="#888" stroke-width="0.8"/></svg>
<div style="position:absolute;left:89.90px;top:170.83px;width:0.80px;height:12.94px;background:#ececec"></div>
<div style="position:absolute;left:3.00px;top:183.17px;width:162.00px;height:0.60px;background:#f6f6f6"></div>
<div class="t" style="left:45.30px;top:172.56px;font-size:7.3px;line-height:9.49px;color:#333;font-weight:normal;transform:scaleX(0.865);transform-origin:0 50%;letter-spacing:0.2px;">Subnet Mask</div>
<div class="t" style="left:93.00px;top:172.56px;font-size:7.3px;line-height:9.49px;color:#a6a6a6;font-weight:normal;transform:scaleX(0.861);transform-origin:0 50%;letter-spacing:0.2px;">255.255.0.0</div>
<div style="position:absolute;left:89.90px;top:183.73px;width:0.80px;height:21.80px;background:#ececec"></div>
<div style="position:absolute;left:3.00px;top:204.93px;width:162.00px;height:0.60px;background:#f6f6f6"></div>
<div class="t" style="left:45.30px;top:185.45px;font-size:7.3px;line-height:9.49px;color:#333;font-weight:normal;transform:scaleX(0.868);transform-origin:0 50%;letter-spacing:0.2px;">Gateway</div>
<div class="t" style="left:45.30px;top:194.35px;font-size:7.3px;line-height:9.49px;color:#333;font-weight:normal;transform:scaleX(0.865);transform-origin:0 50%;letter-spacing:0.2px;">Address</div>
<div class="t" style="left:93.00px;top:185.45px;font-size:7.3px;line-height:9.49px;color:#a6a6a6;font-weight:normal;transform:scaleX(0.862);transform-origin:0 50%;letter-spacing:0.2px;">192.168.80.100</div>
<div style="position:absolute;left:89.90px;top:205.53px;width:0.80px;height:12.94px;background:#ececec"></div>
<div style="position:absolute;left:3.00px;top:217.87px;width:162.00px;height:0.60px;background:#f6f6f6"></div>
<svg style="position:absolute;left:20.90px;top:209.50px;" width="7" height="5" viewBox="0 0 7 5"><path d="M0.8 0.8L3.5 3.5L6.2 0.8" fill="none" stroke="#888" stroke-width="0.8"/></svg>
<div class="t" style="left:29.50px;top:207.25px;font-size:7.3px;line-height:9.49px;color:#333;font-weight:normal;transform:scaleX(0.864);transform-origin:0 50%;letter-spacing:0.2px;">IPA</div>
<div class="t" style="left:93.00px;top:207.25px;font-size:7.3px;line-height:9.49px;color:#1e1e1e;font-weight:normal;transform:scaleX(0.862);transform-origin:0 50%;letter-spacing:0.2px;">192.168.81.100</div>
<div style="position:absolute;left:89.90px;top:218.53px;width:0.80px;height:12.94px;background:#ececec"></div>
<div style="position:absolute;left:3.00px;top:230.87px;width:162.00px;height:0.60px;background:#f6f6f6"></div>
<svg style="position:absolute;left:29.00px;top:222.50px;" width="7" height="5" viewBox="0 0 7 5"><path d="M0.8 0.8L3.5 3.5L6.2 0.8" fill="none" stroke="#888" stroke-width="0.8"/></svg>
<div class="t" style="left:37.50px;top:220.25px;font-size:7.3px;line-height:9.49px;color:#333;font-weight:normal;transform:scaleX(0.860);transform-origin:0 50%;letter-spacing:0.2px;">Logical Network</div>
<div class="t" style="left:93.00px;top:220.25px;font-size:7.3px;line-height:9.49px;color:#2a2a2a;font-weight:normal;transform:scaleX(0.860);transform-origin:0 50%;letter-spacing:0.2px;">Logical Network 2</div>
<svg style="position:absolute;left:156.00px;top:222.50px;" width="7" height="5" viewBox="0 0 7 5"><path d="M0.8 0.8L3.5 3.5L6.2 0.8" fill="none" stroke="#888" stroke-width="0.8"/></svg>
<div style="position:absolute;left:89.90px;top:231.43px;width:0.80px;height:12.94px;background:#ececec"></div>
<div style="position:absolute;left:3.00px;top:243.77px;width:162.00px;height:0.60px;background:#f6f6f6"></div>
<div class="t" style="left:45.30px;top:233.16px;font-size:7.3px;line-height:9.49px;color:#333;font-weight:normal;transform:scaleX(0.865);transform-origin:0 50%;letter-spacing:0.2px;">Subnet Mask</div>
<div class="t" style="left:93.00px;top:233.16px;font-size:7.3px;line-height:9.49px;color:#a6a6a6;font-weight:normal;transform:scaleX(0.861);transform-origin:0 50%;letter-spacing:0.2px;">255.255.0.0</div>
<div style="position:absolute;left:89.90px;top:244.23px;width:0.80px;height:21.80px;background:#ececec"></div>
<div style="position:absolute;left:3.00px;top:265.43px;width:162.00px;height:0.60px;background:#f6f6f6"></div>
<div class="t" style="left:45.30px;top:245.95px;font-size:7.3px;line-height:9.49px;color:#333;font-weight:normal;transform:scaleX(0.868);transform-origin:0 50%;letter-spacing:0.2px;">Gateway</div>
<div class="t" style="left:45.30px;top:254.85px;font-size:7.3px;line-height:9.49px;color:#333;font-weight:normal;transform:scaleX(0.865);transform-origin:0 50%;letter-spacing:0.2px;">Address</div>
<div class="t" style="left:93.00px;top:245.95px;font-size:7.3px;line-height:9.49px;color:#a6a6a6;font-weight:normal;transform:scaleX(0.862);transform-origin:0 50%;letter-spacing:0.2px;">192.168.80.100</div>
<div style="position:absolute;left:89.90px;top:266.33px;width:0.80px;height:12.94px;background:#ececec"></div>
<div style="position:absolute;left:3.00px;top:278.67px;width:162.00px;height:0.60px;background:#f6f6f6"></div>
<div class="t" style="left:29.50px;top:268.06px;font-size:7.3px;line-height:9.49px;color:#333;font-weight:normal;transform:scaleX(0.867);transform-origin:0 50%;letter-spacing:0.2px;">MAC Address</div>
<div style="position:absolute;left:89.90px;top:279.13px;width:0.80px;height:21.80px;background:#ececec"></div>
<div style="position:absolute;left:3.00px;top:300.33px;width:162.00px;height:0.60px;background:#f6f6f6"></div>
<div class="t" style="left:29.50px;top:280.85px;font-size:7.3px;line-height:9.49px;color:#333;font-weight:normal;transform:scaleX(0.860);transform-origin:0 50%;letter-spacing:0.2px;">Associated Physical</div>
<div class="t" style="left:29.50px;top:289.75px;font-size:7.3px;line-height:9.49px;color:#333;font-weight:normal;transform:scaleX(0.860);transform-origin:0 50%;letter-spacing:0.2px;">Ports</div>
<div class="t" style="left:93.00px;top:280.85px;font-size:7.3px;line-height:9.49px;color:#a6a6a6;font-weight:normal;transform:scaleX(0.869);transform-origin:0 50%;letter-spacing:0.2px;">BKP,ETH1,ETH2,ETH3</div>
<div style="position:absolute;left:0.00px;top:301.63px;width:168.00px;height:12.94px;background:#f2f2f2"></div>
<svg style="position:absolute;left:1.80px;top:305.60px;" width="7" height="5" viewBox="0 0 7 5"><path d="M0.8 0.8L3.5 3.5L6.2 0.8" fill="none" stroke="#888" stroke-width="0.8"/></svg>
<div class="t" style="left:12.20px;top:303.35px;font-size:7.3px;line-height:9.49px;color:#333;font-weight:normal;transform:scaleX(0.858);transform-origin:0 50%;letter-spacing:0.2px;">Physical Ports</div>
<div style="position:absolute;left:89.90px;top:315.23px;width:0.80px;height:12.94px;background:#ececec"></div>
<div style="position:absolute;left:3.00px;top:327.57px;width:162.00px;height:0.60px;background:#f6f6f6"></div>
<svg style="position:absolute;left:12.90px;top:319.20px;" width="7" height="5" viewBox="0 0 7 5"><path d="M0.8 0.8L3.5 3.5L6.2 0.8" fill="none" stroke="#888" stroke-width="0.8"/></svg>
<div class="t" style="left:21.50px;top:316.95px;font-size:7.3px;line-height:9.49px;color:#333;font-weight:normal;transform:scaleX(0.874);transform-origin:0 50%;letter-spacing:0.2px;">BKP</div>
<div style="position:absolute;left:89.90px;top:328.13px;width:0.80px;height:12.94px;background:#ececec"></div>
<div style="position:absolute;left:3.00px;top:340.47px;width:162.00px;height:0.60px;background:#f6f6f6"></div>
<div class="t" style="left:29.50px;top:329.85px;font-size:7.3px;line-height:9.49px;color:#333;font-weight:normal;transform:scaleX(0.865);transform-origin:0 50%;letter-spacing:0.2px;">Baud Rate</div>
<div class="t" style="left:93.00px;top:329.85px;font-size:7.3px;line-height:9.49px;color:#a6a6a6;font-weight:normal;transform:scaleX(0.858);transform-origin:0 50%;letter-spacing:0.2px;">100 Mbits/sec Full duplex</div>
<div style="position:absolute;left:89.90px;top:341.13px;width:0.80px;height:12.94px;background:#ececec"></div>
<div style="position:absolute;left:3.00px;top:353.47px;width:162.00px;height:0.60px;background:#f6f6f6"></div>
<div class="t" style="left:29.50px;top:342.85px;font-size:7.3px;line-height:9.49px;color:#333;font-weight:normal;transform:scaleX(0.860);transform-origin:0 50%;letter-spacing:0.2px;">Port Type</div>
<div class="t" style="left:93.00px;top:342.85px;font-size:7.3px;line-height:9.49px;color:#a6a6a6;font-weight:normal;transform:scaleX(0.870);transform-origin:0 50%;letter-spacing:0.2px;">DIO</div>
<div style="position:absolute;left:89.90px;top:354.03px;width:0.80px;height:12.94px;background:#ececec"></div>
<div style="position:absolute;left:3.00px;top:366.37px;width:162.00px;height:0.60px;background:#f6f6f6"></div>
<svg style="position:absolute;left:12.90px;top:358.00px;" width="7" height="5" viewBox="0 0 7 5"><path d="M0.8 0.8L3.5 3.5L6.2 0.8" fill="none" stroke="#888" stroke-width="0.8"/></svg>
<div class="t" style="left:21.50px;top:355.75px;font-size:7.3px;line-height:9.49px;color:#333;font-weight:normal;transform:scaleX(0.873);transform-origin:0 50%;letter-spacing:0.2px;">ETH1</div>
<div style="position:absolute;left:89.90px;top:367.03px;width:0.80px;height:12.94px;background:#ececec"></div>
<div style="position:absolute;left:3.00px;top:379.37px;width:162.00px;height:0.60px;background:#f6f6f6"></div>
<div class="t" style="left:29.50px;top:368.75px;font-size:7.3px;line-height:9.49px;color:#333;font-weight:normal;transform:scaleX(0.865);transform-origin:0 50%;letter-spacing:0.2px;">Enabled</div>
<div style="position:absolute;left:92.80px;top:369.20px;width:8.7px;height:8.7px;background:#3dcd58;border-radius:1px"></div>
<svg style="position:absolute;left:92.80px;top:369.20px;" width="9" height="9" viewBox="0 0 9 9"><path d="M2 4.5L3.8 6.3L7 2.8" fill="none" stroke="#fff" stroke-width="0.9"/></svg>
<div style="position:absolute;left:89.90px;top:380.03px;width:0.80px;height:12.94px;background:#ececec"></div>
<div style="position:absolute;left:3.00px;top:392.37px;width:162.00px;height:0.60px;background:#f6f6f6"></div>
<div class="t" style="left:29.50px;top:381.75px;font-size:7.3px;line-height:9.49px;color:#333;font-weight:normal;transform:scaleX(0.865);transform-origin:0 50%;letter-spacing:0.2px;">Baud Rate</div>
<div class="t" style="left:93.00px;top:381.75px;font-size:7.3px;line-height:9.49px;color:#a6a6a6;font-weight:normal;transform:scaleX(0.860);transform-origin:0 50%;letter-spacing:0.2px;">Auto 10/100 Mbits/sec</div>
<div style="position:absolute;left:89.90px;top:392.83px;width:0.80px;height:12.94px;background:#ececec"></div>
<div style="position:absolute;left:3.00px;top:405.17px;width:162.00px;height:0.60px;background:#f6f6f6"></div>
<div class="t" style="left:29.50px;top:394.56px;font-size:7.3px;line-height:9.49px;color:#333;font-weight:normal;transform:scaleX(0.861);transform-origin:0 50%;letter-spacing:0.2px;">Service Port Mode</div>
<div class="t" style="left:93.00px;top:394.56px;font-size:7.3px;line-height:9.49px;color:#2a2a2a;font-weight:normal;transform:scaleX(0.866);transform-origin:0 50%;letter-spacing:0.2px;">Access Mode</div>
<svg style="position:absolute;left:156.00px;top:396.80px;" width="7" height="5" viewBox="0 0 7 5"><path d="M0.8 0.8L3.5 3.5L6.2 0.8" fill="none" stroke="#888" stroke-width="0.8"/></svg>
<div style="position:absolute;left:89.90px;top:405.83px;width:0.80px;height:12.94px;background:#ececec"></div>
<div style="position:absolute;left:3.00px;top:418.17px;width:162.00px;height:0.60px;background:#f6f6f6"></div>
<div class="t" style="left:29.50px;top:407.56px;font-size:7.3px;line-height:9.49px;color:#333;font-weight:normal;transform:scaleX(0.860);transform-origin:0 50%;letter-spacing:0.2px;">Port Type</div>
<div class="t" style="left:93.00px;top:407.56px;font-size:7.3px;line-height:9.49px;color:#a6a6a6;font-weight:normal;transform:scaleX(0.870);transform-origin:0 50%;letter-spacing:0.2px;">DIO</div>
<div style="position:absolute;left:89.90px;top:418.83px;width:0.80px;height:12.94px;background:#ececec"></div>
<div style="position:absolute;left:3.00px;top:431.17px;width:162.00px;height:0.60px;background:#f6f6f6"></div>
<div class="t" style="left:29.50px;top:420.56px;font-size:7.3px;line-height:9.49px;color:#333;font-weight:normal;transform:scaleX(0.860);transform-origin:0 50%;letter-spacing:0.2px;">Automatic Blocking</div>
<div style="position:absolute;left:92.80px;top:421.00px;width:8.7px;height:8.7px;border:0.8px solid #cfcfcf;box-sizing:border-box;border-radius:1px;background:#fafafa"></div>
<div style="position:absolute;left:89.90px;top:431.73px;width:0.80px;height:12.94px;background:#ececec"></div>
<div style="position:absolute;left:3.00px;top:444.07px;width:162.00px;height:0.60px;background:#f6f6f6"></div>
<svg style="position:absolute;left:12.90px;top:435.70px;" width="7" height="5" viewBox="0 0 7 5"><path d="M0.8 0.8L3.5 3.5L6.2 0.8" fill="none" stroke="#888" stroke-width="0.8"/></svg>
<div class="t" style="left:21.50px;top:433.45px;font-size:7.3px;line-height:9.49px;color:#333;font-weight:normal;transform:scaleX(0.873);transform-origin:0 50%;letter-spacing:0.2px;">ETH2</div>
<div style="position:absolute;left:89.90px;top:444.73px;width:0.80px;height:12.94px;background:#ececec"></div>
<div style="position:absolute;left:3.00px;top:457.07px;width:162.00px;height:0.60px;background:#f6f6f6"></div>
<div class="t" style="left:29.50px;top:446.45px;font-size:7.3px;line-height:9.49px;color:#333;font-weight:normal;transform:scaleX(0.865);transform-origin:0 50%;letter-spacing:0.2px;">Baud Rate</div>
<div class="t" style="left:93.00px;top:446.45px;font-size:7.3px;line-height:9.49px;color:#a6a6a6;font-weight:normal;transform:scaleX(0.860);transform-origin:0 50%;letter-spacing:0.2px;">Auto 10/100 Mbits/sec</div>
<div style="position:absolute;left:89.90px;top:457.63px;width:0.80px;height:12.94px;background:#ececec"></div>
<div style="position:absolute;left:3.00px;top:469.97px;width:162.00px;height:0.60px;background:#f6f6f6"></div>
<div class="t" style="left:29.50px;top:459.35px;font-size:7.3px;line-height:9.49px;color:#333;font-weight:normal;transform:scaleX(0.860);transform-origin:0 50%;letter-spacing:0.2px;">L2 Service</div>
<div class="t" style="left:93.00px;top:459.35px;font-size:7.3px;line-height:9.49px;color:#2a2a2a;font-weight:normal;transform:scaleX(0.869);transform-origin:0 50%;letter-spacing:0.2px;">QoS, RSTP</div>
<svg style="position:absolute;left:156.00px;top:461.60px;" width="7" height="5" viewBox="0 0 7 5"><path d="M0.8 0.8L3.5 3.5L6.2 0.8" fill="none" stroke="#888" stroke-width="0.8"/></svg>
<div style="position:absolute;left:89.90px;top:470.73px;width:0.80px;height:12.94px;background:#ececec"></div>
<div style="position:absolute;left:3.00px;top:483.07px;width:162.00px;height:0.60px;background:#f6f6f6"></div>
<div class="t" style="left:29.50px;top:472.45px;font-size:7.3px;line-height:9.49px;color:#333;font-weight:normal;transform:scaleX(0.860);transform-origin:0 50%;letter-spacing:0.2px;">Port Type</div>
<div class="t" style="left:93.00px;top:472.45px;font-size:7.3px;line-height:9.49px;color:#a6a6a6;font-weight:normal;transform:scaleX(0.870);transform-origin:0 50%;letter-spacing:0.2px;">RIO</div>
<div style="position:absolute;left:89.90px;top:483.73px;width:0.80px;height:12.94px;background:#ececec"></div>
<div style="position:absolute;left:3.00px;top:496.07px;width:162.00px;height:0.60px;background:#f6f6f6"></div>
<svg style="position:absolute;left:12.90px;top:487.70px;" width="7" height="5" viewBox="0 0 7 5"><path d="M0.8 0.8L3.5 3.5L6.2 0.8" fill="none" stroke="#888" stroke-width="0.8"/></svg>
<div class="t" style="left:21.50px;top:485.45px;font-size:7.3px;line-height:9.49px;color:#333;font-weight:normal;transform:scaleX(0.873);transform-origin:0 50%;letter-spacing:0.2px;">ETH3</div>
<div style="position:absolute;left:89.90px;top:496.63px;width:0.80px;height:12.94px;background:#ececec"></div>
<div style="position:absolute;left:3.00px;top:508.97px;width:162.00px;height:0.60px;background:#f6f6f6"></div>
<div class="t" style="left:29.50px;top:498.35px;font-size:7.3px;line-height:9.49px;color:#333;font-weight:normal;transform:scaleX(0.865);transform-origin:0 50%;letter-spacing:0.2px;">Baud Rate</div>
<div class="t" style="left:93.00px;top:498.35px;font-size:7.3px;line-height:9.49px;color:#a6a6a6;font-weight:normal;transform:scaleX(0.860);transform-origin:0 50%;letter-spacing:0.2px;">Auto 10/100 Mbits/sec</div>
<div style="position:absolute;left:89.90px;top:509.43px;width:0.80px;height:12.94px;background:#ececec"></div>
<div style="position:absolute;left:3.00px;top:521.77px;width:162.00px;height:0.60px;background:#f6f6f6"></div>
<div class="t" style="left:29.50px;top:511.16px;font-size:7.3px;line-height:9.49px;color:#333;font-weight:normal;transform:scaleX(0.860);transform-origin:0 50%;letter-spacing:0.2px;">L2 Service</div>
<div class="t" style="left:93.00px;top:511.16px;font-size:7.3px;line-height:9.49px;color:#2a2a2a;font-weight:normal;transform:scaleX(0.869);transform-origin:0 50%;letter-spacing:0.2px;">QoS, RSTP</div>
<svg style="position:absolute;left:156.00px;top:513.40px;" width="7" height="5" viewBox="0 0 7 5"><path d="M0.8 0.8L3.5 3.5L6.2 0.8" fill="none" stroke="#888" stroke-width="0.8"/></svg>
</div>
<div style="position:absolute;left:1297.50px;top:975.00px;width:171.50px;height:44.00px;background:#f5f5f5;border:1px solid #e8e8e8;box-sizing:border-box"></div>
<div class="t" style="left:1303.30px;top:982.25px;font-size:7.3px;line-height:9.49px;color:#111;font-weight:bold;transform:scaleX(0.941);transform-origin:0 50%;">Name</div>
<div class="t" style="left:1303.30px;top:993.86px;font-size:7.3px;line-height:9.49px;color:#333;font-weight:normal;transform:scaleX(0.924);transform-origin:0 50%;">Name of the object.</div>
<svg style="position:absolute;left:255.50px;top:405.00px;" width="10" height="10" viewBox="0 0 10 10"><g fill="none" stroke="#333" stroke-width="0.9"><path d="M1 6V9H9V6" stroke-linejoin="round"/><path d="M5 1V6.5" stroke-width="1.4"/><path d="M2.8 3.2L5 1L7.2 3.2Z" fill="#333"/></g></svg>
<div style="position:absolute;left:269.00px;top:405.50px;width:0.70px;height:9.00px;background:#dcdcdc"></div>
<svg style="position:absolute;left:273.50px;top:405.50px;" width="9" height="9" viewBox="0 0 9 9"><rect x="0.5" y="0.5" width="2" height="2" fill="#333"/><rect x="0.5" y="3.5" width="2" height="2" fill="#333"/><rect x="0.5" y="6.5" width="2" height="2" fill="#333"/><rect x="3.5" y="0.5" width="2" height="2" fill="#333"/><rect x="3.5" y="3.5" width="2" height="2" fill="#333"/><rect x="3.5" y="6.5" width="2" height="2" fill="#333"/><rect x="6.5" y="0.5" width="2" height="2" fill="#333"/><rect x="6.5" y="3.5" width="2" height="2" fill="#333"/><rect x="6.5" y="6.5" width="2" height="2" fill="#333"/></svg>
<div style="position:absolute;left:287.00px;top:405.50px;width:0.70px;height:9.00px;background:#dcdcdc"></div>
<svg style="position:absolute;left:291.50px;top:405.00px;" width="10" height="10" viewBox="0 0 10 10"><g fill="none" stroke="#333" stroke-width="0.9"><circle cx="4" cy="4" r="3.3"/><path d="M6.4 6.4L9 9" stroke-width="1.2"/></g></svg>
<div class="t" style="left:306.50px;top:405.45px;font-size:7px;line-height:9.10px;color:#222;font-weight:bold;">1:1</div>
<svg style="position:absolute;left:322.00px;top:405.00px;" width="10" height="10" viewBox="0 0 10 10"><g fill="none" stroke="#333" stroke-width="0.9"><circle cx="4" cy="4" r="3.3"/><path d="M6.4 6.4L9 9" stroke-width="1.2"/><path d="M2.3 4H5.7"/><path d="M4 2.3V5.7"/></g></svg>
<svg style="position:absolute;left:337.50px;top:405.00px;" width="10" height="10" viewBox="0 0 10 10"><g fill="none" stroke="#333" stroke-width="0.9"><circle cx="4" cy="4" r="3.3"/><path d="M6.4 6.4L9 9" stroke-width="1.2"/><path d="M2.3 4H5.7"/></g></svg>
<div style="position:absolute;left:350.00px;top:405.50px;width:0.70px;height:9.00px;background:#dcdcdc"></div>
<svg style="position:absolute;left:355.00px;top:404.50px;" width="10" height="11" viewBox="0 0 10 11"><g fill="none" stroke="#333" stroke-width="0.8"><rect x="1" y="5" width="8" height="4.5"/><rect x="2" y="7" width="1.5" height="1.5" fill="#333"/></g></svg>
<div class="t" style="left:355px;top:403.5px;width:10px;text-align:center;font-size:4.5px;line-height:5px;color:#333">PN</div>
<svg style="position:absolute;left:370.30px;top:404.50px;" width="10" height="11" viewBox="0 0 10 11"><g fill="none" stroke="#333" stroke-width="0.8"><rect x="1" y="5" width="8" height="4.5"/><rect x="2" y="7" width="1.5" height="1.5" fill="#333"/></g></svg>
<div class="t" style="left:370.3px;top:403.5px;width:10px;text-align:center;font-size:4.5px;line-height:5px;color:#333">A</div>
<svg style="position:absolute;left:385.70px;top:404.50px;" width="10" height="11" viewBox="0 0 10 11"><g fill="none" stroke="#333" stroke-width="0.8"><rect x="1" y="5" width="8" height="4.5"/><rect x="2" y="7" width="1.5" height="1.5" fill="#333"/></g></svg>
<div class="t" style="left:385.7px;top:403.5px;width:10px;text-align:center;font-size:4.5px;line-height:5px;color:#333">IP</div>
<svg style="position:absolute;left:401.00px;top:404.50px;" width="10" height="11" viewBox="0 0 10 11"><g fill="none" stroke="#333" stroke-width="0.8"><rect x="1" y="5" width="8" height="4.5"/><rect x="2" y="7" width="1.5" height="1.5" fill="#333"/></g></svg>
<div class="t" style="left:401px;top:403.5px;width:10px;text-align:center;font-size:4.5px;line-height:5px;color:#333">LN</div>
<svg style="position:absolute;left:415.70px;top:404.50px;" width="10" height="11" viewBox="0 0 10 11"><g fill="none" stroke="#333" stroke-width="0.8"><path d="M1 9H9" stroke-width="1"/><circle cx="1.2" cy="9" r="0.9" fill="#333"/><circle cx="8.8" cy="9" r="0.9" fill="#333"/></g></svg>
<div class="t" style="left:415.7px;top:403.5px;width:10px;text-align:center;font-size:4.5px;line-height:5px;color:#333">A</div>
<div style="position:absolute;left:429.00px;top:405.50px;width:0.70px;height:9.00px;background:#dcdcdc"></div>
<div class="t" style="left:471.60px;top:405.56px;font-size:7.3px;line-height:9.49px;color:#3dbb55;font-weight:normal;transform:scaleX(0.881);transform-origin:0 50%;">Port Type</div>
<svg style="position:absolute;left:543.50px;top:408.00px;" width="7" height="5" viewBox="0 0 7 5"><path d="M0.8 0.8L3.5 3.5L6.2 0.8" fill="none" stroke="#999" stroke-width="0.8"/></svg>
<div class="t" style="left:568.60px;top:405.56px;font-size:7.3px;line-height:9.49px;color:#2a2a2a;font-weight:normal;transform:scaleX(0.926);transform-origin:0 50%;">-- Select Logical Networks --</div>
<svg style="position:absolute;left:669.50px;top:408.00px;" width="7" height="5" viewBox="0 0 7 5"><path d="M0.8 0.8L3.5 3.5L6.2 0.8" fill="none" stroke="#999" stroke-width="0.8"/></svg>
<div style="position:absolute;left:1181.00px;top:403.00px;width:112.00px;height:13.00px;border:1px solid #e2e2e2;border-radius:2px;box-sizing:border-box;background:#fff"></div>
<svg style="position:absolute;left:1282.00px;top:405.50px;" width="8" height="8" viewBox="0 0 8 8"><g fill="none" stroke="#ddd" stroke-width="0.9"><circle cx="3.2" cy="3.2" r="2.5"/><path d="M5 5L7.5 7.5"/></g></svg>
<div style="position:absolute;left:252.50px;top:419.00px;width:1043.50px;height:0.80px;background:#ececec"></div>
<svg style="position:absolute;left:0;top:0" width="1500" height="1500" viewBox="0 0 1500 1500"><rect x="483.40" y="459.00" width="33.30" height="69.60" rx="2" fill="#fff" stroke="#6f6f6f" stroke-width="1.25"/><path d="M486.5 467.4H514" stroke="#8a8a8a" stroke-width="0.8"/><path d="M486.5 470.7H514" stroke="#bdbdbd" stroke-width="1"/><circle cx="512.5" cy="463.5" r="1.3" fill="#8a8a8a"/><rect x="486" y="513.2" width="29" height="13.6" fill="#fff" stroke="#d0d0d0" stroke-width="0.9"/><path d="M486 513.8H515" stroke="#c8c8c8" stroke-width="1.4"/><rect x="778.40" y="451.00" width="68.70" height="53.70" rx="3.5" fill="#fff" stroke="#6f6f6f" stroke-width="1.25"/><rect x="781.60" y="454.30" width="62.40" height="46.70" rx="2" fill="#fff" stroke="#9a9a9a" stroke-width="0.9"/><path d="M808 504.7V509.5M818 504.7V509.5" stroke="#6f6f6f" stroke-width="1"/><rect x="777.20" y="509.50" width="71.10" height="15.90" rx="1.5" fill="#fff" stroke="#6f6f6f" stroke-width="1.25"/><rect x="780" y="511.2" width="32" height="12.8" fill="#fff" stroke="#d8d8d8" stroke-width="0.8"/><rect x="657.20" y="598.60" width="55.60" height="38.10" rx="2.5" fill="#fff" stroke="#6f6f6f" stroke-width="1.25"/><g fill="none" stroke="#777" stroke-width="0.8"><path d="M660.5 602.8H662.3L665.6 606.3H668.5M660.5 606.3H662.3L665.6 602.8H668.5"/><path d="M667.3 601.8L668.6 602.8L667.3 603.8M667.3 605.3L668.6 606.3L667.3 607.3"/></g><rect x="486.40" y="681.20" width="142.40" height="67.70" rx="2" fill="#fff" stroke="#6f6f6f" stroke-width="1.25"/><rect x="733.50" y="686.20" width="142.40" height="66.70" rx="2" fill="#fff" stroke="#6f6f6f" stroke-width="1.25"/><path d="M546.40 684.50V746.00" stroke="#858585" stroke-width="1.15"/><path d="M587.20 684.50V746.00" stroke="#858585" stroke-width="1.15"/><path d="M750.90 689.50V749.50" stroke="#858585" stroke-width="1.15"/><path d="M792.50 689.50V749.50" stroke="#858585" stroke-width="1.15"/><path d="M834.30 689.50V749.50" stroke="#858585" stroke-width="1.15"/><rect x="485.70" y="768.70" width="61.60" height="67.00" rx="2" fill="#fff" stroke="#6f6f6f" stroke-width="1.25"/><path d="M503.30 772.20V832.20" stroke="#858585" stroke-width="1.15"/><text x="507.30" y="777.80" font-size="6.0" fill="#5c5c5c" stroke="#5c5c5c" stroke-width="0.12" font-family="Liberation Sans, sans-serif">eCRA</text><text x="507.30" y="784.10" font-size="6.0" fill="#5c5c5c" stroke="#5c5c5c" stroke-width="0.12" font-family="Liberation Sans, sans-serif">31210</text><rect x="485.70" y="856.00" width="61.60" height="66.70" rx="2" fill="#fff" stroke="#6f6f6f" stroke-width="1.25"/><path d="M503.30 859.50V919.20" stroke="#858585" stroke-width="1.15"/><text x="507.30" y="864.80" font-size="6.0" fill="#5c5c5c" stroke="#5c5c5c" stroke-width="0.12" font-family="Liberation Sans, sans-serif">CRA</text><text x="507.30" y="871.10" font-size="6.0" fill="#5c5c5c" stroke="#5c5c5c" stroke-width="0.12" font-family="Liberation Sans, sans-serif">31210</text><rect x="485.70" y="943.30" width="61.60" height="66.70" rx="2" fill="#fff" stroke="#6f6f6f" stroke-width="1.25"/><path d="M503.30 946.80V1006.50" stroke="#858585" stroke-width="1.15"/><text x="507.30" y="952.10" font-size="6.0" fill="#5c5c5c" stroke="#5c5c5c" stroke-width="0.12" font-family="Liberation Sans, sans-serif">eCRA</text><text x="507.30" y="958.40" font-size="6.0" fill="#5c5c5c" stroke="#5c5c5c" stroke-width="0.12" font-family="Liberation Sans, sans-serif">31210</text><text x="508.00" y="690.40" font-size="6.0" fill="#5c5c5c" stroke="#5c5c5c" stroke-width="0.12" font-family="Liberation Sans, sans-serif">eH58</text><text x="508.00" y="696.70" font-size="6.0" fill="#5c5c5c" stroke="#5c5c5c" stroke-width="0.12" font-family="Liberation Sans, sans-serif">4040</text><text x="755.00" y="695.40" font-size="6.0" fill="#5c5c5c" stroke="#5c5c5c" stroke-width="0.12" font-family="Liberation Sans, sans-serif">eH58</text><text x="755.00" y="701.70" font-size="6.0" fill="#5c5c5c" stroke="#5c5c5c" stroke-width="0.12" font-family="Liberation Sans, sans-serif">4040</text><text x="549.90" y="690.40" font-size="6.0" fill="#5c5c5c" stroke="#5c5c5c" stroke-width="0.12" font-family="Liberation Sans, sans-serif">eNOC</text><text x="549.90" y="696.70" font-size="6.0" fill="#5c5c5c" stroke="#5c5c5c" stroke-width="0.12" font-family="Liberation Sans, sans-serif">0321</text><text x="591.00" y="690.40" font-size="6.0" fill="#5c5c5c" stroke="#5c5c5c" stroke-width="0.12" font-family="Liberation Sans, sans-serif">eNOC</text><text x="591.00" y="696.70" font-size="6.0" fill="#5c5c5c" stroke="#5c5c5c" stroke-width="0.12" font-family="Liberation Sans, sans-serif">0311.4</text><text x="796.70" y="695.40" font-size="6.0" fill="#5c5c5c" stroke="#5c5c5c" stroke-width="0.12" font-family="Liberation Sans, sans-serif">eNOC</text><text x="796.70" y="701.70" font-size="6.0" fill="#5c5c5c" stroke="#5c5c5c" stroke-width="0.12" font-family="Liberation Sans, sans-serif">0321</text><text x="838.00" y="695.40" font-size="6.0" fill="#5c5c5c" stroke="#5c5c5c" stroke-width="0.12" font-family="Liberation Sans, sans-serif">eNOC</text><text x="838.00" y="701.70" font-size="6.0" fill="#5c5c5c" stroke="#5c5c5c" stroke-width="0.12" font-family="Liberation Sans, sans-serif">0311.4</text><rect x="503.5" y="684.1" width="41.3" height="62" rx="1" fill="none" stroke="#58b2ea" stroke-width="1.5"/><polyline points="491.80,526.00 491.80,615.30 662.00,615.30" fill="none" stroke="#fdd23f" stroke-width="1.0" stroke-linejoin="round"/><polyline points="785.70,523.00 785.70,615.30 708.00,615.30" fill="none" stroke="#fdd23f" stroke-width="1.0" stroke-linejoin="round"/><polyline points="662.00,628.70 535.20,628.70 535.20,702.00" fill="none" stroke="#fdd23f" stroke-width="1.0" stroke-linejoin="round"/><polyline points="708.00,628.70 782.10,628.70 782.10,707.00" fill="none" stroke="#fdd23f" stroke-width="1.0" stroke-linejoin="round"/><polyline points="535.20,742.00 535.20,763.30 782.10,763.30 782.10,747.00" fill="none" stroke="#fdd23f" stroke-width="1.0" stroke-linejoin="round"/><polyline points="539.00,731.30 554.40,731.30 554.40,810.40 538.00,810.40" fill="none" stroke="#20ab55" stroke-width="1.0" stroke-linejoin="round"/><polyline points="538.00,823.40 554.40,823.40 554.40,898.00 538.00,898.00" fill="none" stroke="#20ab55" stroke-width="1.0" stroke-linejoin="round"/><polyline points="538.00,910.80 554.40,910.80 554.40,985.10 538.00,985.10" fill="none" stroke="#20ab55" stroke-width="1.0" stroke-linejoin="round"/><polyline points="538.00,998.10 801.60,998.10 801.60,736.30 786.00,736.30" fill="none" stroke="#20ab55" stroke-width="1.0" stroke-linejoin="round"/><rect x="486.00" y="515.00" width="11.00" height="11.00" rx="1.2" fill="#fdd23f"/><rect x="780.00" y="512.00" width="11.00" height="11.00" rx="1.2" fill="#fdd23f"/><rect x="660.10" y="610.00" width="11.00" height="10.80" rx="1.2" fill="#fdd23f"/><rect x="673.75" y="610.65" width="9.70" height="9.50" rx="1.2" fill="#fff" stroke="#fdd23f" stroke-width="1.2"/><rect x="686.75" y="610.65" width="9.70" height="9.50" rx="1.2" fill="#fff" stroke="#fdd23f" stroke-width="1.2"/><rect x="699.00" y="610.00" width="11.00" height="10.80" rx="1.2" fill="#fdd23f"/><rect x="660.10" y="623.10" width="11.00" height="10.80" rx="1.2" fill="#fdd23f"/><rect x="673.75" y="623.75" width="9.70" height="9.50" rx="1.2" fill="#fff" stroke="#fdd23f" stroke-width="1.2"/><rect x="686.75" y="623.75" width="9.70" height="9.50" rx="1.2" fill="#fff" stroke="#fdd23f" stroke-width="1.2"/><rect x="699.00" y="623.10" width="11.00" height="10.80" rx="1.2" fill="#fdd23f"/><rect x="529.60" y="700.40" width="11.20" height="10.10" rx="1.2" fill="#fdd23f"/><rect x="530.25" y="713.85" width="9.90" height="8.80" rx="1.2" fill="#fff" stroke="#0f9d45" stroke-width="1.2"/><rect x="529.60" y="726.00" width="11.20" height="10.70" rx="1.2" fill="#0f9d45"/><rect x="529.60" y="739.10" width="11.20" height="4.50" rx="1.2" fill="#fdd23f"/><rect x="571.85" y="705.85" width="9.40" height="8.90" rx="1.2" fill="#fff" stroke="#fdd23f" stroke-width="1.2"/><rect x="613.75" y="705.85" width="9.40" height="8.90" rx="1.2" fill="#fff" stroke="#fdd23f" stroke-width="1.2"/><rect x="571.85" y="718.85" width="9.40" height="8.90" rx="1.2" fill="#fff" stroke="#fdd23f" stroke-width="1.2"/><rect x="613.75" y="718.85" width="9.40" height="8.90" rx="1.2" fill="#fff" stroke="#fdd23f" stroke-width="1.2"/><rect x="571.85" y="731.95" width="9.40" height="8.90" rx="1.2" fill="#fff" stroke="#fdd23f" stroke-width="1.2"/><rect x="613.75" y="731.95" width="9.40" height="8.90" rx="1.2" fill="#fff" stroke="#fdd23f" stroke-width="1.2"/><rect x="776.70" y="705.40" width="10.70" height="10.10" rx="1.2" fill="#fdd23f"/><rect x="777.35" y="718.95" width="9.40" height="8.70" rx="1.2" fill="#fff" stroke="#0f9d45" stroke-width="1.2"/><rect x="776.70" y="731.00" width="10.70" height="10.60" rx="1.2" fill="#0f9d45"/><rect x="776.70" y="744.00" width="10.70" height="4.60" rx="1.2" fill="#fdd23f"/><rect x="818.95" y="710.35" width="9.40" height="9.00" rx="1.2" fill="#fff" stroke="#fdd23f" stroke-width="1.2"/><rect x="860.95" y="710.35" width="9.00" height="9.00" rx="1.2" fill="#fff" stroke="#fdd23f" stroke-width="1.2"/><rect x="818.95" y="723.45" width="9.40" height="9.00" rx="1.2" fill="#fff" stroke="#fdd23f" stroke-width="1.2"/><rect x="860.95" y="723.45" width="9.00" height="9.00" rx="1.2" fill="#fff" stroke="#fdd23f" stroke-width="1.2"/><rect x="818.95" y="736.25" width="9.40" height="9.00" rx="1.2" fill="#fff" stroke="#fdd23f" stroke-width="1.2"/><rect x="860.95" y="736.25" width="9.00" height="9.00" rx="1.2" fill="#fff" stroke="#fdd23f" stroke-width="1.2"/><rect x="529.95" y="787.95" width="9.10" height="9.40" rx="1.2" fill="#fff" stroke="#fdd23f" stroke-width="1.2"/><rect x="529.30" y="805.30" width="10.40" height="10.40" rx="1.2" fill="#0f9d45"/><rect x="529.30" y="818.30" width="10.40" height="10.40" rx="1.2" fill="#0f9d45"/><rect x="529.95" y="874.95" width="9.10" height="9.40" rx="1.2" fill="#fff" stroke="#fdd23f" stroke-width="1.2"/><rect x="529.30" y="892.70" width="10.40" height="10.40" rx="1.2" fill="#0f9d45"/><rect x="529.30" y="905.70" width="10.40" height="10.40" rx="1.2" fill="#0f9d45"/><rect x="529.95" y="962.35" width="9.10" height="9.40" rx="1.2" fill="#fff" stroke="#fdd23f" stroke-width="1.2"/><rect x="529.30" y="980.00" width="10.40" height="10.40" rx="1.2" fill="#0f9d45"/><rect x="529.30" y="993.00" width="10.40" height="10.40" rx="1.2" fill="#0f9d45"/></svg>
</body></html>
